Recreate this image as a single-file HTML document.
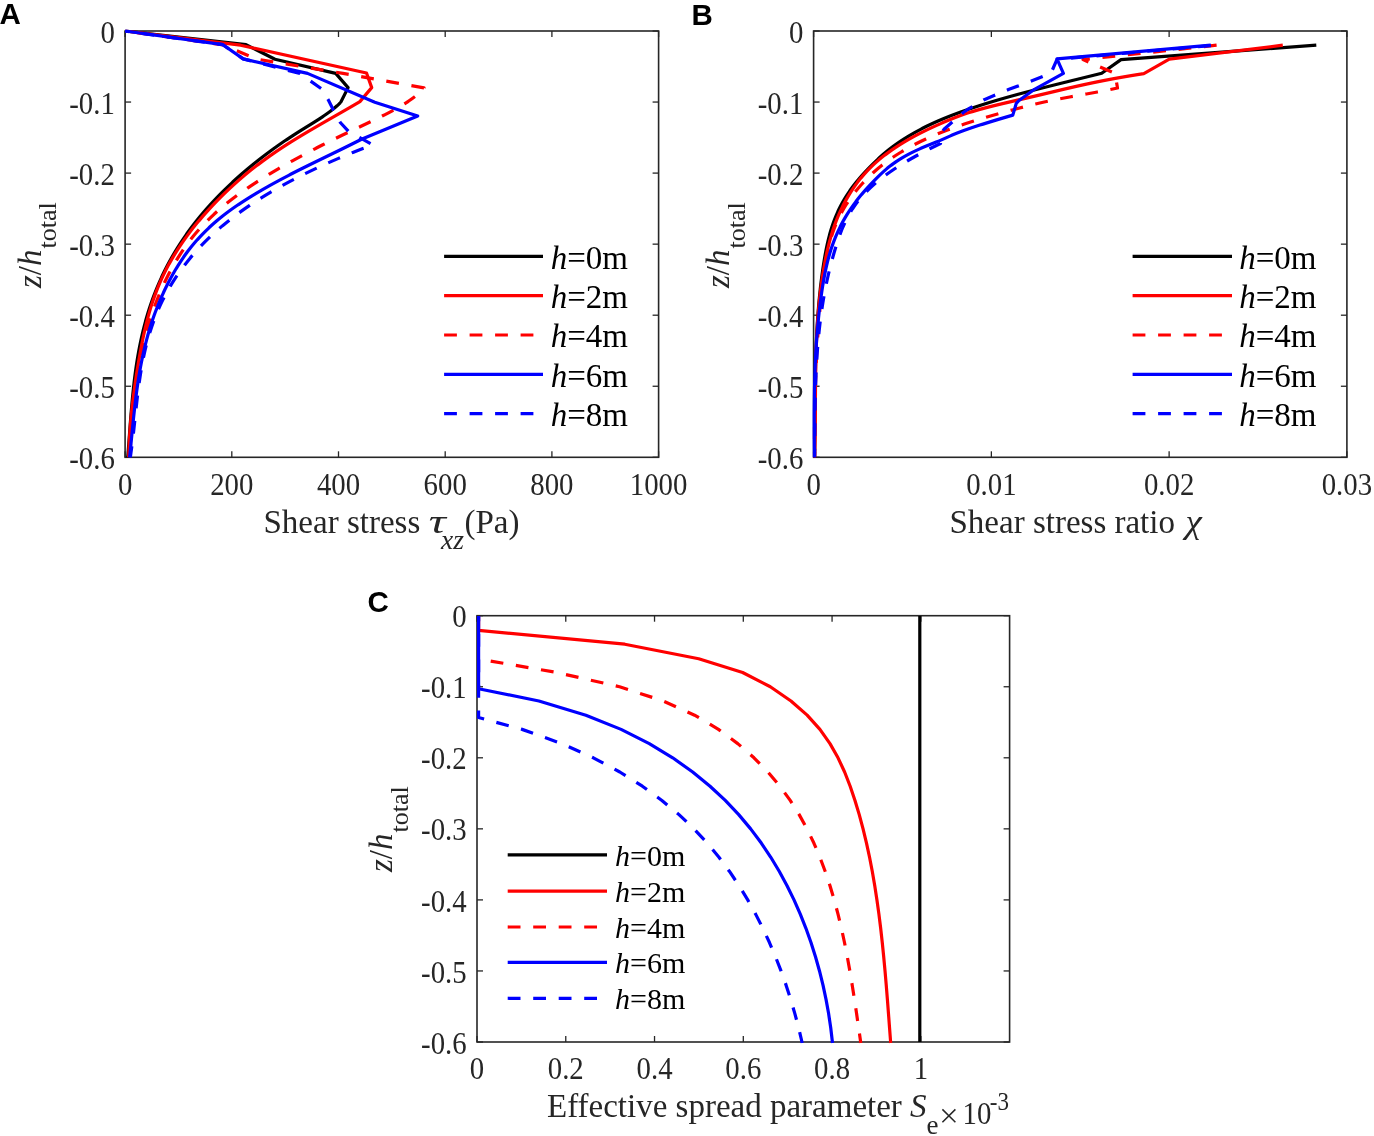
<!DOCTYPE html><html><head><meta charset="utf-8"><style>html,body{margin:0;padding:0;background:#fff;overflow:hidden}svg{display:block;will-change:transform}</style></head><body>
<svg width="1374" height="1136" viewBox="0 0 1374 1136" font-family="Liberation Serif, serif">
<rect width="1374" height="1136" fill="#fff"/>
<text x="-0.5" y="24" font-family="Liberation Sans, sans-serif" font-weight="bold" font-size="29.5" fill="#000">A</text>
<text x="691.5" y="24.5" font-family="Liberation Sans, sans-serif" font-weight="bold" font-size="29.5" fill="#000">B</text>
<text x="367.5" y="611.5" font-family="Liberation Sans, sans-serif" font-weight="bold" font-size="29.5" fill="#000">C</text>
<defs><clipPath id="ca"><rect x="123.5" y="29.4" width="536.7" height="429.5"/></clipPath><clipPath id="cb"><rect x="812.0" y="29.4" width="536.5000000000001" height="429.5"/></clipPath><clipPath id="cc"><rect x="475.4" y="614.1" width="535.8000000000001" height="429.49999999999994"/></clipPath></defs>
<rect x="125.1" y="31" width="533.50" height="426.30" fill="none" stroke="#262626" stroke-width="1.6"/>
<line x1="125.1" y1="31.00" x2="131.1" y2="31.00" stroke="#262626" stroke-width="1.3"/>
<line x1="658.6" y1="31.00" x2="652.6" y2="31.00" stroke="#262626" stroke-width="1.3"/>
<text transform="translate(114.80,42.60) scale(0.96,1.07)" text-anchor="end" font-size="30" fill="#262626">0</text>
<line x1="125.1" y1="102.05" x2="131.1" y2="102.05" stroke="#262626" stroke-width="1.3"/>
<line x1="658.6" y1="102.05" x2="652.6" y2="102.05" stroke="#262626" stroke-width="1.3"/>
<text transform="translate(114.80,113.65) scale(0.96,1.07)" text-anchor="end" font-size="30" fill="#262626">-0.1</text>
<line x1="125.1" y1="173.10" x2="131.1" y2="173.10" stroke="#262626" stroke-width="1.3"/>
<line x1="658.6" y1="173.10" x2="652.6" y2="173.10" stroke="#262626" stroke-width="1.3"/>
<text transform="translate(114.80,184.70) scale(0.96,1.07)" text-anchor="end" font-size="30" fill="#262626">-0.2</text>
<line x1="125.1" y1="244.15" x2="131.1" y2="244.15" stroke="#262626" stroke-width="1.3"/>
<line x1="658.6" y1="244.15" x2="652.6" y2="244.15" stroke="#262626" stroke-width="1.3"/>
<text transform="translate(114.80,255.75) scale(0.96,1.07)" text-anchor="end" font-size="30" fill="#262626">-0.3</text>
<line x1="125.1" y1="315.20" x2="131.1" y2="315.20" stroke="#262626" stroke-width="1.3"/>
<line x1="658.6" y1="315.20" x2="652.6" y2="315.20" stroke="#262626" stroke-width="1.3"/>
<text transform="translate(114.80,326.80) scale(0.96,1.07)" text-anchor="end" font-size="30" fill="#262626">-0.4</text>
<line x1="125.1" y1="386.25" x2="131.1" y2="386.25" stroke="#262626" stroke-width="1.3"/>
<line x1="658.6" y1="386.25" x2="652.6" y2="386.25" stroke="#262626" stroke-width="1.3"/>
<text transform="translate(114.80,397.85) scale(0.96,1.07)" text-anchor="end" font-size="30" fill="#262626">-0.5</text>
<line x1="125.1" y1="457.30" x2="131.1" y2="457.30" stroke="#262626" stroke-width="1.3"/>
<line x1="658.6" y1="457.30" x2="652.6" y2="457.30" stroke="#262626" stroke-width="1.3"/>
<text transform="translate(114.80,468.90) scale(0.96,1.07)" text-anchor="end" font-size="30" fill="#262626">-0.6</text>
<line x1="125.10" y1="457.3" x2="125.10" y2="451.3" stroke="#262626" stroke-width="1.3"/>
<line x1="125.10" y1="31" x2="125.10" y2="37" stroke="#262626" stroke-width="1.3"/>
<text transform="translate(125.10,494.60) scale(0.96,1.07)" text-anchor="middle" font-size="30" fill="#262626">0</text>
<line x1="231.80" y1="457.3" x2="231.80" y2="451.3" stroke="#262626" stroke-width="1.3"/>
<line x1="231.80" y1="31" x2="231.80" y2="37" stroke="#262626" stroke-width="1.3"/>
<text transform="translate(231.80,494.60) scale(0.96,1.07)" text-anchor="middle" font-size="30" fill="#262626">200</text>
<line x1="338.50" y1="457.3" x2="338.50" y2="451.3" stroke="#262626" stroke-width="1.3"/>
<line x1="338.50" y1="31" x2="338.50" y2="37" stroke="#262626" stroke-width="1.3"/>
<text transform="translate(338.50,494.60) scale(0.96,1.07)" text-anchor="middle" font-size="30" fill="#262626">400</text>
<line x1="445.20" y1="457.3" x2="445.20" y2="451.3" stroke="#262626" stroke-width="1.3"/>
<line x1="445.20" y1="31" x2="445.20" y2="37" stroke="#262626" stroke-width="1.3"/>
<text transform="translate(445.20,494.60) scale(0.96,1.07)" text-anchor="middle" font-size="30" fill="#262626">600</text>
<line x1="551.90" y1="457.3" x2="551.90" y2="451.3" stroke="#262626" stroke-width="1.3"/>
<line x1="551.90" y1="31" x2="551.90" y2="37" stroke="#262626" stroke-width="1.3"/>
<text transform="translate(551.90,494.60) scale(0.96,1.07)" text-anchor="middle" font-size="30" fill="#262626">800</text>
<line x1="658.60" y1="457.3" x2="658.60" y2="451.3" stroke="#262626" stroke-width="1.3"/>
<line x1="658.60" y1="31" x2="658.60" y2="37" stroke="#262626" stroke-width="1.3"/>
<text transform="translate(658.60,494.60) scale(0.96,1.07)" text-anchor="middle" font-size="30" fill="#262626">1000</text>
<g clip-path="url(#ca)">
<path d="M125.20,31.00 L246.00,44.60 L275.00,59.30 L335.70,73.40 L348.10,87.60 L341.00,101.80 L340.10,102.80 L339.14,103.80 L338.13,104.80 L337.06,105.80 L335.94,106.80 L334.77,107.80 L333.55,108.80 L332.29,109.80 L331.00,110.80 L329.66,111.80 L328.28,112.80 L326.87,113.80 L325.44,114.80 L323.97,115.80 L322.47,116.80 L320.96,117.80 L319.42,118.80 L317.86,119.80 L316.29,120.80 L314.70,121.80 L313.10,122.80 L311.49,123.80 L309.88,124.80 L308.26,125.80 L306.64,126.80 L305.03,127.80 L303.42,128.80 L301.81,129.80 L300.21,130.80 L298.63,131.80 L297.05,132.80 L295.49,133.80 L293.95,134.80 L292.41,135.80 L290.89,136.80 L289.38,137.80 L287.89,138.80 L286.40,139.80 L284.93,140.80 L283.47,141.80 L282.02,142.80 L280.59,143.80 L279.16,144.80 L277.74,145.80 L276.34,146.80 L274.94,147.80 L273.56,148.80 L272.18,149.80 L270.82,150.80 L269.46,151.80 L268.11,152.80 L266.78,153.80 L265.45,154.80 L264.13,155.80 L262.82,156.80 L261.52,157.80 L260.23,158.80 L258.95,159.80 L257.68,160.80 L256.42,161.80 L255.16,162.80 L253.92,163.80 L252.68,164.80 L251.46,165.80 L250.24,166.80 L249.03,167.80 L247.83,168.80 L246.64,169.80 L245.46,170.80 L244.29,171.80 L243.12,172.80 L241.96,173.80 L240.82,174.80 L239.68,175.80 L238.55,176.80 L237.42,177.80 L236.31,178.80 L235.21,179.80 L234.11,180.80 L233.02,181.80 L231.94,182.80 L230.87,183.80 L229.80,184.80 L228.75,185.80 L227.70,186.80 L226.66,187.80 L225.63,188.80 L224.60,189.80 L223.59,190.80 L222.58,191.80 L221.58,192.80 L220.58,193.80 L219.60,194.80 L218.62,195.80 L217.65,196.80 L216.69,197.80 L215.73,198.80 L214.79,199.80 L213.85,200.80 L212.92,201.80 L211.99,202.80 L211.07,203.80 L210.16,204.80 L209.26,205.80 L208.36,206.80 L207.48,207.80 L206.60,208.80 L205.72,209.80 L204.85,210.80 L203.99,211.80 L203.14,212.80 L202.30,213.80 L201.46,214.80 L200.63,215.80 L199.80,216.80 L198.98,217.80 L198.17,218.80 L197.37,219.80 L196.57,220.80 L195.78,221.80 L195.00,222.80 L194.22,223.80 L193.45,224.80 L192.69,225.80 L191.93,226.80 L191.18,227.80 L190.44,228.80 L189.70,229.80 L188.97,230.80 L188.24,231.80 L187.53,232.80 L186.81,233.80 L186.11,234.80 L185.41,235.80 L184.72,236.80 L184.03,237.80 L183.35,238.80 L182.68,239.80 L182.01,240.80 L181.35,241.80 L180.69,242.80 L180.04,243.80 L179.40,244.80 L178.76,245.80 L178.13,246.80 L177.51,247.80 L176.89,248.80 L176.27,249.80 L175.67,250.80 L175.06,251.80 L174.47,252.80 L173.88,253.80 L173.29,254.80 L172.71,255.80 L172.14,256.80 L171.57,257.80 L171.01,258.80 L170.45,259.80 L169.90,260.80 L169.36,261.80 L168.81,262.80 L168.28,263.80 L167.75,264.80 L167.23,265.80 L166.71,266.80 L166.19,267.80 L165.69,268.80 L165.18,269.80 L164.68,270.80 L164.19,271.80 L163.70,272.80 L163.22,273.80 L162.74,274.80 L162.27,275.80 L161.80,276.80 L161.34,277.80 L160.88,278.80 L160.43,279.80 L159.98,280.80 L159.54,281.80 L159.10,282.80 L158.67,283.80 L158.24,284.80 L157.82,285.80 L157.40,286.80 L156.98,287.80 L156.57,288.80 L156.17,289.80 L155.76,290.80 L155.37,291.80 L154.98,292.80 L154.59,293.80 L154.20,294.80 L153.83,295.80 L153.45,296.80 L153.08,297.80 L152.72,298.80 L152.35,299.80 L152.00,300.80 L151.64,301.80 L151.29,302.80 L150.95,303.80 L150.61,304.80 L150.27,305.80 L149.94,306.80 L149.61,307.80 L149.28,308.80 L148.96,309.80 L148.65,310.80 L148.33,311.80 L148.02,312.80 L147.72,313.80 L147.42,314.80 L147.12,315.80 L146.82,316.80 L146.53,317.80 L146.25,318.80 L145.96,319.80 L145.68,320.80 L145.41,321.80 L145.14,322.80 L144.87,323.80 L144.60,324.80 L144.34,325.80 L144.08,326.80 L143.83,327.80 L143.57,328.80 L143.32,329.80 L143.08,330.80 L142.84,331.80 L142.60,332.80 L142.36,333.80 L142.13,334.80 L141.90,335.80 L141.67,336.80 L141.45,337.80 L141.23,338.80 L141.01,339.80 L140.80,340.80 L140.59,341.80 L140.38,342.80 L140.17,343.80 L139.97,344.80 L139.77,345.80 L139.57,346.80 L139.38,347.80 L139.19,348.80 L139.00,349.80 L138.81,350.80 L138.63,351.80 L138.45,352.80 L138.27,353.80 L138.09,354.80 L137.92,355.80 L137.75,356.80 L137.58,357.80 L137.41,358.80 L137.25,359.80 L137.09,360.80 L136.93,361.80 L136.77,362.80 L136.62,363.80 L136.46,364.80 L136.31,365.80 L136.17,366.80 L136.02,367.80 L135.88,368.80 L135.73,369.80 L135.59,370.80 L135.46,371.80 L135.32,372.80 L135.19,373.80 L135.06,374.80 L134.93,375.80 L134.80,376.80 L134.67,377.80 L134.55,378.80 L134.42,379.80 L134.30,380.80 L134.18,381.80 L134.06,382.80 L133.95,383.80 L133.83,384.80 L133.72,385.80 L133.61,386.80 L133.50,387.80 L133.39,388.80 L133.28,389.80 L133.18,390.80 L133.07,391.80 L132.97,392.80 L132.87,393.80 L132.77,394.80 L132.67,395.80 L132.57,396.80 L132.47,397.80 L132.38,398.80 L132.28,399.80 L132.19,400.80 L132.10,401.80 L132.01,402.80 L131.92,403.80 L131.83,404.80 L131.74,405.80 L131.65,406.80 L131.56,407.80 L131.48,408.80 L131.39,409.80 L131.31,410.80 L131.23,411.80 L131.14,412.80 L131.06,413.80 L130.98,414.80 L130.90,415.80 L130.82,416.80 L130.74,417.80 L130.66,418.80 L130.58,419.80 L130.50,420.80 L130.43,421.80 L130.35,422.80 L130.27,423.80 L130.20,424.80 L130.12,425.80 L130.04,426.80 L129.97,427.80 L129.89,428.80 L129.82,429.80 L129.74,430.80 L129.67,431.80 L129.59,432.80 L129.52,433.80 L129.44,434.80 L129.37,435.80 L129.29,436.80 L129.22,437.80 L129.14,438.80 L129.07,439.80 L128.99,440.80 L128.92,441.80 L128.84,442.80 L128.77,443.80 L128.69,444.80 L128.61,445.80 L128.54,446.80 L128.46,447.80 L128.38,448.80 L128.30,449.80 L128.22,450.80 L128.14,451.80 L128.07,452.80 L127.99,453.80 L127.90,454.80 L127.82,455.80 L127.74,456.80 L127.70,457.30" fill="none" stroke="#000" stroke-width="3.2" stroke-linejoin="round"/>
<path d="M125.20,31.00 L240.50,45.20 L366.50,73.00 L371.70,87.60 L359.90,101.60 L358.20,102.60 L356.49,103.60 L354.78,104.60 L353.07,105.60 L351.34,106.60 L349.62,107.60 L347.88,108.60 L346.15,109.60 L344.41,110.60 L342.67,111.60 L340.93,112.60 L339.18,113.60 L337.44,114.60 L335.69,115.60 L333.94,116.60 L332.19,117.60 L330.45,118.60 L328.70,119.60 L326.96,120.60 L325.21,121.60 L323.47,122.60 L321.73,123.60 L320.00,124.60 L318.27,125.60 L316.54,126.60 L314.82,127.60 L313.11,128.60 L311.40,129.60 L309.69,130.60 L307.99,131.60 L306.30,132.60 L304.62,133.60 L302.94,134.60 L301.27,135.60 L299.62,136.60 L297.97,137.60 L296.33,138.60 L294.70,139.60 L293.08,140.60 L291.47,141.60 L289.88,142.60 L288.29,143.60 L286.72,144.60 L285.17,145.60 L283.62,146.60 L282.09,147.60 L280.57,148.60 L279.07,149.60 L277.58,150.60 L276.10,151.60 L274.64,152.60 L273.19,153.60 L271.75,154.60 L270.32,155.60 L268.91,156.60 L267.51,157.60 L266.12,158.60 L264.74,159.60 L263.38,160.60 L262.03,161.60 L260.69,162.60 L259.36,163.60 L258.04,164.60 L256.74,165.60 L255.44,166.60 L254.16,167.60 L252.89,168.60 L251.62,169.60 L250.37,170.60 L249.13,171.60 L247.91,172.60 L246.69,173.60 L245.48,174.60 L244.28,175.60 L243.09,176.60 L241.91,177.60 L240.75,178.60 L239.59,179.60 L238.44,180.60 L237.30,181.60 L236.17,182.60 L235.05,183.60 L233.93,184.60 L232.83,185.60 L231.74,186.60 L230.65,187.60 L229.57,188.60 L228.51,189.60 L227.45,190.60 L226.39,191.60 L225.35,192.60 L224.31,193.60 L223.28,194.60 L222.26,195.60 L221.25,196.60 L220.25,197.60 L219.25,198.60 L218.26,199.60 L217.27,200.60 L216.30,201.60 L215.33,202.60 L214.37,203.60 L213.41,204.60 L212.46,205.60 L211.52,206.60 L210.59,207.60 L209.66,208.60 L208.74,209.60 L207.83,210.60 L206.92,211.60 L206.03,212.60 L205.13,213.60 L204.25,214.60 L203.37,215.60 L202.50,216.60 L201.64,217.60 L200.78,218.60 L199.94,219.60 L199.09,220.60 L198.26,221.60 L197.43,222.60 L196.61,223.60 L195.79,224.60 L194.99,225.60 L194.19,226.60 L193.39,227.60 L192.60,228.60 L191.82,229.60 L191.05,230.60 L190.28,231.60 L189.53,232.60 L188.77,233.60 L188.03,234.60 L187.29,235.60 L186.55,236.60 L185.83,237.60 L185.11,238.60 L184.40,239.60 L183.69,240.60 L182.99,241.60 L182.30,242.60 L181.61,243.60 L180.94,244.60 L180.26,245.60 L179.60,246.60 L178.94,247.60 L178.29,248.60 L177.64,249.60 L177.00,250.60 L176.37,251.60 L175.74,252.60 L175.12,253.60 L174.51,254.60 L173.90,255.60 L173.30,256.60 L172.71,257.60 L172.12,258.60 L171.54,259.60 L170.97,260.60 L170.40,261.60 L169.84,262.60 L169.28,263.60 L168.74,264.60 L168.19,265.60 L167.66,266.60 L167.13,267.60 L166.61,268.60 L166.09,269.60 L165.58,270.60 L165.08,271.60 L164.58,272.60 L164.09,273.60 L163.60,274.60 L163.12,275.60 L162.65,276.60 L162.19,277.60 L161.72,278.60 L161.27,279.60 L160.82,280.60 L160.38,281.60 L159.94,282.60 L159.51,283.60 L159.09,284.60 L158.67,285.60 L158.26,286.60 L157.85,287.60 L157.45,288.60 L157.05,289.60 L156.66,290.60 L156.27,291.60 L155.89,292.60 L155.51,293.60 L155.14,294.60 L154.78,295.60 L154.41,296.60 L154.06,297.60 L153.71,298.60 L153.36,299.60 L153.02,300.60 L152.68,301.60 L152.35,302.60 L152.02,303.60 L151.70,304.60 L151.38,305.60 L151.06,306.60 L150.75,307.60 L150.45,308.60 L150.15,309.60 L149.85,310.60 L149.55,311.60 L149.26,312.60 L148.98,313.60 L148.70,314.60 L148.42,315.60 L148.14,316.60 L147.87,317.60 L147.60,318.60 L147.34,319.60 L147.08,320.60 L146.82,321.60 L146.57,322.60 L146.32,323.60 L146.07,324.60 L145.83,325.60 L145.59,326.60 L145.35,327.60 L145.11,328.60 L144.88,329.60 L144.65,330.60 L144.43,331.60 L144.20,332.60 L143.98,333.60 L143.76,334.60 L143.55,335.60 L143.33,336.60 L143.12,337.60 L142.91,338.60 L142.71,339.60 L142.50,340.60 L142.30,341.60 L142.10,342.60 L141.90,343.60 L141.71,344.60 L141.51,345.60 L141.32,346.60 L141.13,347.60 L140.94,348.60 L140.75,349.60 L140.57,350.60 L140.38,351.60 L140.20,352.60 L140.02,353.60 L139.84,354.60 L139.66,355.60 L139.49,356.60 L139.31,357.60 L139.13,358.60 L138.96,359.60 L138.79,360.60 L138.62,361.60 L138.44,362.60 L138.27,363.60 L138.11,364.60 L137.94,365.60 L137.77,366.60 L137.61,367.60 L137.44,368.60 L137.28,369.60 L137.12,370.60 L136.96,371.60 L136.80,372.60 L136.64,373.60 L136.48,374.60 L136.32,375.60 L136.17,376.60 L136.02,377.60 L135.86,378.60 L135.71,379.60 L135.56,380.60 L135.41,381.60 L135.27,382.60 L135.12,383.60 L134.98,384.60 L134.83,385.60 L134.69,386.60 L134.55,387.60 L134.41,388.60 L134.27,389.60 L134.14,390.60 L134.00,391.60 L133.87,392.60 L133.74,393.60 L133.61,394.60 L133.48,395.60 L133.35,396.60 L133.22,397.60 L133.10,398.60 L132.97,399.60 L132.85,400.60 L132.73,401.60 L132.61,402.60 L132.49,403.60 L132.38,404.60 L132.26,405.60 L132.15,406.60 L132.04,407.60 L131.93,408.60 L131.82,409.60 L131.71,410.60 L131.61,411.60 L131.50,412.60 L131.40,413.60 L131.30,414.60 L131.20,415.60 L131.11,416.60 L131.01,417.60 L130.92,418.60 L130.82,419.60 L130.73,420.60 L130.65,421.60 L130.56,422.60 L130.47,423.60 L130.39,424.60 L130.31,425.60 L130.23,426.60 L130.15,427.60 L130.08,428.60 L130.00,429.60 L129.93,430.60 L129.86,431.60 L129.79,432.60 L129.72,433.60 L129.66,434.60 L129.59,435.60 L129.53,436.60 L129.47,437.60 L129.41,438.60 L129.36,439.60 L129.31,440.60 L129.25,441.60 L129.20,442.60 L129.16,443.60 L129.11,444.60 L129.07,445.60 L129.02,446.60 L128.98,447.60 L128.94,448.60 L128.91,449.60 L128.87,450.60 L128.84,451.60 L128.81,452.60 L128.79,453.60 L128.76,454.60 L128.74,455.60 L128.71,456.60 L128.70,457.30" fill="none" stroke="#f00" stroke-width="3.2" stroke-linejoin="round"/>
<path d="M125.20,31.00 L223.00,44.80 L257.00,59.20 L343.00,73.40 L424.00,87.80 L423.20,88.80 L422.34,89.80 L421.42,90.80 L420.43,91.80 L419.39,92.80 L418.29,93.80 L417.13,94.80 L415.91,95.80 L414.65,96.80 L413.33,97.80 L411.96,98.80 L410.54,99.80 L409.08,100.80 L407.57,101.80 L406.02,102.80 L404.43,103.80 L402.79,104.80 L401.12,105.80 L399.41,106.80 L397.67,107.80 L395.89,108.80 L394.08,109.80 L392.24,110.80 L390.37,111.80 L388.47,112.80 L386.55,113.80 L384.61,114.80 L382.64,115.80 L380.65,116.80 L378.64,117.80 L376.61,118.80 L374.57,119.80 L372.52,120.80 L370.45,121.80 L368.37,122.80 L366.28,123.80 L364.18,124.80 L362.08,125.80 L359.98,126.80 L357.86,127.80 L355.75,128.80 L353.64,129.80 L351.53,130.80 L349.43,131.80 L347.33,132.80 L345.23,133.80 L343.15,134.80 L341.07,135.80 L339.01,136.80 L336.95,137.80 L334.90,138.80 L332.86,139.80 L330.83,140.80 L328.81,141.80 L326.80,142.80 L324.80,143.80 L322.81,144.80 L320.83,145.80 L318.86,146.80 L316.90,147.80 L314.95,148.80 L313.01,149.80 L311.09,150.80 L309.17,151.80 L307.26,152.80 L305.36,153.80 L303.48,154.80 L301.60,155.80 L299.74,156.80 L297.89,157.80 L296.04,158.80 L294.21,159.80 L292.40,160.80 L290.59,161.80 L288.79,162.80 L287.01,163.80 L285.23,164.80 L283.47,165.80 L281.72,166.80 L279.99,167.80 L278.26,168.80 L276.55,169.80 L274.85,170.80 L273.16,171.80 L271.49,172.80 L269.82,173.80 L268.17,174.80 L266.53,175.80 L264.91,176.80 L263.30,177.80 L261.70,178.80 L260.11,179.80 L258.54,180.80 L256.98,181.80 L255.43,182.80 L253.90,183.80 L252.38,184.80 L250.87,185.80 L249.38,186.80 L247.90,187.80 L246.44,188.80 L244.99,189.80 L243.55,190.80 L242.13,191.80 L240.72,192.80 L239.32,193.80 L237.94,194.80 L236.58,195.80 L235.23,196.80 L233.89,197.80 L232.57,198.80 L231.27,199.80 L229.97,200.80 L228.70,201.80 L227.44,202.80 L226.19,203.80 L224.96,204.80 L223.75,205.80 L222.54,206.80 L221.36,207.80 L220.19,208.80 L219.03,209.80 L217.89,210.80 L216.76,211.80 L215.65,212.80 L214.55,213.80 L213.47,214.80 L212.40,215.80 L211.34,216.80 L210.29,217.80 L209.26,218.80 L208.24,219.80 L207.24,220.80 L206.25,221.80 L205.27,222.80 L204.30,223.80 L203.35,224.80 L202.41,225.80 L201.48,226.80 L200.56,227.80 L199.65,228.80 L198.76,229.80 L197.88,230.80 L197.01,231.80 L196.15,232.80 L195.30,233.80 L194.46,234.80 L193.64,235.80 L192.82,236.80 L192.02,237.80 L191.22,238.80 L190.44,239.80 L189.66,240.80 L188.90,241.80 L188.15,242.80 L187.40,243.80 L186.67,244.80 L185.94,245.80 L185.23,246.80 L184.52,247.80 L183.82,248.80 L183.13,249.80 L182.45,250.80 L181.78,251.80 L181.12,252.80 L180.46,253.80 L179.82,254.80 L179.18,255.80 L178.55,256.80 L177.92,257.80 L177.31,258.80 L176.70,259.80 L176.10,260.80 L175.50,261.80 L174.92,262.80 L174.34,263.80 L173.76,264.80 L173.20,265.80 L172.64,266.80 L172.08,267.80 L171.54,268.80 L170.99,269.80 L170.46,270.80 L169.93,271.80 L169.40,272.80 L168.88,273.80 L168.37,274.80 L167.86,275.80 L167.36,276.80 L166.86,277.80 L166.37,278.80 L165.88,279.80 L165.39,280.80 L164.92,281.80 L164.44,282.80 L163.97,283.80 L163.51,284.80 L163.05,285.80 L162.59,286.80 L162.14,287.80 L161.70,288.80 L161.26,289.80 L160.82,290.80 L160.39,291.80 L159.97,292.80 L159.54,293.80 L159.13,294.80 L158.71,295.80 L158.31,296.80 L157.90,297.80 L157.50,298.80 L157.11,299.80 L156.72,300.80 L156.33,301.80 L155.95,302.80 L155.57,303.80 L155.20,304.80 L154.83,305.80 L154.46,306.80 L154.10,307.80 L153.74,308.80 L153.39,309.80 L153.04,310.80 L152.70,311.80 L152.36,312.80 L152.02,313.80 L151.69,314.80 L151.36,315.80 L151.03,316.80 L150.71,317.80 L150.39,318.80 L150.08,319.80 L149.77,320.80 L149.46,321.80 L149.16,322.80 L148.86,323.80 L148.56,324.80 L148.27,325.80 L147.98,326.80 L147.70,327.80 L147.42,328.80 L147.14,329.80 L146.87,330.80 L146.60,331.80 L146.33,332.80 L146.06,333.80 L145.80,334.80 L145.55,335.80 L145.29,336.80 L145.04,337.80 L144.79,338.80 L144.55,339.80 L144.31,340.80 L144.07,341.80 L143.83,342.80 L143.60,343.80 L143.37,344.80 L143.15,345.80 L142.92,346.80 L142.70,347.80 L142.49,348.80 L142.27,349.80 L142.06,350.80 L141.85,351.80 L141.64,352.80 L141.44,353.80 L141.24,354.80 L141.04,355.80 L140.85,356.80 L140.65,357.80 L140.46,358.80 L140.28,359.80 L140.09,360.80 L139.91,361.80 L139.73,362.80 L139.55,363.80 L139.38,364.80 L139.20,365.80 L139.03,366.80 L138.87,367.80 L138.70,368.80 L138.54,369.80 L138.37,370.80 L138.22,371.80 L138.06,372.80 L137.90,373.80 L137.75,374.80 L137.60,375.80 L137.45,376.80 L137.31,377.80 L137.16,378.80 L137.02,379.80 L136.88,380.80 L136.74,381.80 L136.60,382.80 L136.47,383.80 L136.33,384.80 L136.20,385.80 L136.07,386.80 L135.95,387.80 L135.82,388.80 L135.70,389.80 L135.57,390.80 L135.45,391.80 L135.33,392.80 L135.21,393.80 L135.10,394.80 L134.98,395.80 L134.87,396.80 L134.75,397.80 L134.64,398.80 L134.53,399.80 L134.43,400.80 L134.32,401.80 L134.21,402.80 L134.11,403.80 L134.01,404.80 L133.90,405.80 L133.80,406.80 L133.70,407.80 L133.60,408.80 L133.51,409.80 L133.41,410.80 L133.31,411.80 L133.22,412.80 L133.12,413.80 L133.03,414.80 L132.94,415.80 L132.85,416.80 L132.76,417.80 L132.67,418.80 L132.58,419.80 L132.49,420.80 L132.40,421.80 L132.32,422.80 L132.23,423.80 L132.15,424.80 L132.06,425.80 L131.98,426.80 L131.89,427.80 L131.81,428.80 L131.73,429.80 L131.64,430.80 L131.56,431.80 L131.48,432.80 L131.40,433.80 L131.32,434.80 L131.23,435.80 L131.15,436.80 L131.07,437.80 L130.99,438.80 L130.91,439.80 L130.83,440.80 L130.75,441.80 L130.67,442.80 L130.59,443.80 L130.51,444.80 L130.43,445.80 L130.35,446.80 L130.27,447.80 L130.19,448.80 L130.11,449.80 L130.03,450.80 L129.95,451.80 L129.87,452.80 L129.79,453.80 L129.71,454.80 L129.62,455.80 L129.54,456.80 L129.50,457.30" fill="none" stroke="#f00" stroke-width="3.2" stroke-linejoin="round" stroke-dasharray="12.8 12.7" stroke-dashoffset="13.67"/>
<path d="M125.20,31.00 L222.90,44.70 L243.20,58.90 L307.50,73.40 L374.80,102.20 L417.70,116.10 L361.50,139.30 L359.54,140.30 L357.56,141.30 L355.58,142.30 L353.59,143.30 L351.58,144.30 L349.57,145.30 L347.56,146.30 L345.53,147.30 L343.50,148.30 L341.46,149.30 L339.42,150.30 L337.37,151.30 L335.32,152.30 L333.27,153.30 L331.22,154.30 L329.16,155.30 L327.10,156.30 L325.04,157.30 L322.99,158.30 L320.93,159.30 L318.88,160.30 L316.82,161.30 L314.78,162.30 L312.73,163.30 L310.69,164.30 L308.66,165.30 L306.63,166.30 L304.60,167.30 L302.59,168.30 L300.58,169.30 L298.58,170.30 L296.59,171.30 L294.61,172.30 L292.65,173.30 L290.69,174.30 L288.74,175.30 L286.81,176.30 L284.89,177.30 L282.98,178.30 L281.09,179.30 L279.21,180.30 L277.35,181.30 L275.50,182.30 L273.67,183.30 L271.85,184.30 L270.05,185.30 L268.26,186.30 L266.49,187.30 L264.73,188.30 L262.99,189.30 L261.26,190.30 L259.55,191.30 L257.86,192.30 L256.18,193.30 L254.52,194.30 L252.87,195.30 L251.24,196.30 L249.63,197.30 L248.04,198.30 L246.46,199.30 L244.90,200.30 L243.35,201.30 L241.82,202.30 L240.31,203.30 L238.82,204.30 L237.35,205.30 L235.89,206.30 L234.45,207.30 L233.03,208.30 L231.63,209.30 L230.25,210.30 L228.88,211.30 L227.53,212.30 L226.21,213.30 L224.90,214.30 L223.61,215.30 L222.33,216.30 L221.08,217.30 L219.85,218.30 L218.63,219.30 L217.43,220.30 L216.25,221.30 L215.08,222.30 L213.93,223.30 L212.80,224.30 L211.69,225.30 L210.59,226.30 L209.50,227.30 L208.44,228.30 L207.39,229.30 L206.35,230.30 L205.33,231.30 L204.33,232.30 L203.34,233.30 L202.36,234.30 L201.40,235.30 L200.45,236.30 L199.52,237.30 L198.60,238.30 L197.69,239.30 L196.80,240.30 L195.92,241.30 L195.06,242.30 L194.20,243.30 L193.36,244.30 L192.53,245.30 L191.71,246.30 L190.91,247.30 L190.12,248.30 L189.33,249.30 L188.56,250.30 L187.80,251.30 L187.06,252.30 L186.32,253.30 L185.59,254.30 L184.87,255.30 L184.16,256.30 L183.46,257.30 L182.78,258.30 L182.10,259.30 L181.43,260.30 L180.76,261.30 L180.11,262.30 L179.47,263.30 L178.83,264.30 L178.20,265.30 L177.58,266.30 L176.97,267.30 L176.36,268.30 L175.76,269.30 L175.17,270.30 L174.59,271.30 L174.01,272.30 L173.43,273.30 L172.87,274.30 L172.31,275.30 L171.75,276.30 L171.20,277.30 L170.66,278.30 L170.12,279.30 L169.59,280.30 L169.06,281.30 L168.54,282.30 L168.02,283.30 L167.51,284.30 L167.01,285.30 L166.51,286.30 L166.01,287.30 L165.52,288.30 L165.04,289.30 L164.56,290.30 L164.09,291.30 L163.62,292.30 L163.16,293.30 L162.70,294.30 L162.24,295.30 L161.79,296.30 L161.35,297.30 L160.91,298.30 L160.48,299.30 L160.05,300.30 L159.62,301.30 L159.21,302.30 L158.79,303.30 L158.38,304.30 L157.97,305.30 L157.57,306.30 L157.18,307.30 L156.79,308.30 L156.40,309.30 L156.02,310.30 L155.64,311.30 L155.26,312.30 L154.89,313.30 L154.53,314.30 L154.17,315.30 L153.81,316.30 L153.46,317.30 L153.11,318.30 L152.77,319.30 L152.43,320.30 L152.09,321.30 L151.76,322.30 L151.43,323.30 L151.11,324.30 L150.79,325.30 L150.47,326.30 L150.16,327.30 L149.85,328.30 L149.55,329.30 L149.25,330.30 L148.95,331.30 L148.66,332.30 L148.37,333.30 L148.09,334.30 L147.80,335.30 L147.53,336.30 L147.25,337.30 L146.98,338.30 L146.71,339.30 L146.45,340.30 L146.19,341.30 L145.93,342.30 L145.67,343.30 L145.42,344.30 L145.17,345.30 L144.93,346.30 L144.69,347.30 L144.45,348.30 L144.22,349.30 L143.98,350.30 L143.75,351.30 L143.53,352.30 L143.31,353.30 L143.09,354.30 L142.87,355.30 L142.65,356.30 L142.44,357.30 L142.23,358.30 L142.03,359.30 L141.82,360.30 L141.62,361.30 L141.43,362.30 L141.23,363.30 L141.04,364.30 L140.85,365.30 L140.66,366.30 L140.48,367.30 L140.29,368.30 L140.11,369.30 L139.94,370.30 L139.76,371.30 L139.59,372.30 L139.42,373.30 L139.25,374.30 L139.08,375.30 L138.92,376.30 L138.75,377.30 L138.59,378.30 L138.44,379.30 L138.28,380.30 L138.13,381.30 L137.97,382.30 L137.82,383.30 L137.68,384.30 L137.53,385.30 L137.39,386.30 L137.24,387.30 L137.10,388.30 L136.96,389.30 L136.83,390.30 L136.69,391.30 L136.56,392.30 L136.42,393.30 L136.29,394.30 L136.16,395.30 L136.03,396.30 L135.91,397.30 L135.78,398.30 L135.66,399.30 L135.53,400.30 L135.41,401.30 L135.29,402.30 L135.17,403.30 L135.06,404.30 L134.94,405.30 L134.82,406.30 L134.71,407.30 L134.60,408.30 L134.48,409.30 L134.37,410.30 L134.26,411.30 L134.15,412.30 L134.04,413.30 L133.94,414.30 L133.83,415.30 L133.72,416.30 L133.62,417.30 L133.51,418.30 L133.41,419.30 L133.31,420.30 L133.20,421.30 L133.10,422.30 L133.00,423.30 L132.90,424.30 L132.80,425.30 L132.70,426.30 L132.60,427.30 L132.50,428.30 L132.40,429.30 L132.30,430.30 L132.20,431.30 L132.10,432.30 L132.00,433.30 L131.90,434.30 L131.81,435.30 L131.71,436.30 L131.61,437.30 L131.51,438.30 L131.41,439.30 L131.32,440.30 L131.22,441.30 L131.12,442.30 L131.02,443.30 L130.92,444.30 L130.82,445.30 L130.72,446.30 L130.62,447.30 L130.52,448.30 L130.42,449.30 L130.32,450.30 L130.22,451.30 L130.12,452.30 L130.02,453.30 L129.91,454.30 L129.81,455.30 L129.70,456.30 L129.60,457.30" fill="none" stroke="#00f" stroke-width="3.2" stroke-linejoin="round"/>
<path d="M125.20,31.00 L222.90,44.70 L243.20,58.90 L300.00,73.50 L321.90,89.10 L328.50,100.30 L334.00,111.40 L340.30,122.50 L348.30,131.20 L373.00,145.00 L362.90,148.40 L360.36,149.40 L357.84,150.40 L355.35,151.40 L352.87,152.40 L350.42,153.40 L347.99,154.40 L345.58,155.40 L343.19,156.40 L340.82,157.40 L338.48,158.40 L336.15,159.40 L333.85,160.40 L331.56,161.40 L329.30,162.40 L327.05,163.40 L324.83,164.40 L322.63,165.40 L320.44,166.40 L318.28,167.40 L316.13,168.40 L314.01,169.40 L311.91,170.40 L309.82,171.40 L307.76,172.40 L305.71,173.40 L303.68,174.40 L301.67,175.40 L299.68,176.40 L297.71,177.40 L295.76,178.40 L293.83,179.40 L291.91,180.40 L290.01,181.40 L288.14,182.40 L286.27,183.40 L284.43,184.40 L282.61,185.40 L280.80,186.40 L279.01,187.40 L277.24,188.40 L275.48,189.40 L273.75,190.40 L272.03,191.40 L270.32,192.40 L268.64,193.40 L266.97,194.40 L265.32,195.40 L263.68,196.40 L262.06,197.40 L260.46,198.40 L258.87,199.40 L257.30,200.40 L255.74,201.40 L254.20,202.40 L252.68,203.40 L251.17,204.40 L249.68,205.40 L248.21,206.40 L246.75,207.40 L245.30,208.40 L243.87,209.40 L242.45,210.40 L241.05,211.40 L239.67,212.40 L238.29,213.40 L236.94,214.40 L235.60,215.40 L234.27,216.40 L232.95,217.40 L231.65,218.40 L230.37,219.40 L229.10,220.40 L227.84,221.40 L226.59,222.40 L225.36,223.40 L224.14,224.40 L222.94,225.40 L221.75,226.40 L220.57,227.40 L219.40,228.40 L218.25,229.40 L217.11,230.40 L215.99,231.40 L214.87,232.40 L213.77,233.40 L212.68,234.40 L211.60,235.40 L210.54,236.40 L209.48,237.40 L208.44,238.40 L207.41,239.40 L206.39,240.40 L205.38,241.40 L204.39,242.40 L203.40,243.40 L202.43,244.40 L201.47,245.40 L200.51,246.40 L199.57,247.40 L198.64,248.40 L197.72,249.40 L196.81,250.40 L195.92,251.40 L195.03,252.40 L194.15,253.40 L193.28,254.40 L192.42,255.40 L191.57,256.40 L190.73,257.40 L189.90,258.40 L189.08,259.40 L188.27,260.40 L187.47,261.40 L186.68,262.40 L185.89,263.40 L185.12,264.40 L184.35,265.40 L183.59,266.40 L182.84,267.40 L182.10,268.40 L181.37,269.40 L180.65,270.40 L179.93,271.40 L179.23,272.40 L178.53,273.40 L177.84,274.40 L177.15,275.40 L176.48,276.40 L175.81,277.40 L175.16,278.40 L174.51,279.40 L173.86,280.40 L173.23,281.40 L172.60,282.40 L171.98,283.40 L171.37,284.40 L170.77,285.40 L170.17,286.40 L169.58,287.40 L169.00,288.40 L168.43,289.40 L167.86,290.40 L167.30,291.40 L166.75,292.40 L166.20,293.40 L165.66,294.40 L165.13,295.40 L164.61,296.40 L164.09,297.40 L163.58,298.40 L163.08,299.40 L162.58,300.40 L162.09,301.40 L161.61,302.40 L161.13,303.40 L160.66,304.40 L160.19,305.40 L159.74,306.40 L159.28,307.40 L158.84,308.40 L158.40,309.40 L157.97,310.40 L157.54,311.40 L157.12,312.40 L156.70,313.40 L156.29,314.40 L155.89,315.40 L155.49,316.40 L155.10,317.40 L154.72,318.40 L154.34,319.40 L153.96,320.40 L153.59,321.40 L153.23,322.40 L152.87,323.40 L152.52,324.40 L152.17,325.40 L151.83,326.40 L151.49,327.40 L151.16,328.40 L150.83,329.40 L150.51,330.40 L150.19,331.40 L149.88,332.40 L149.57,333.40 L149.27,334.40 L148.97,335.40 L148.68,336.40 L148.39,337.40 L148.11,338.40 L147.83,339.40 L147.55,340.40 L147.28,341.40 L147.01,342.40 L146.75,343.40 L146.49,344.40 L146.24,345.40 L145.99,346.40 L145.74,347.40 L145.50,348.40 L145.26,349.40 L145.03,350.40 L144.80,351.40 L144.57,352.40 L144.35,353.40 L144.13,354.40 L143.92,355.40 L143.70,356.40 L143.50,357.40 L143.29,358.40 L143.09,359.40 L142.89,360.40 L142.69,361.40 L142.50,362.40 L142.31,363.40 L142.13,364.40 L141.94,365.40 L141.76,366.40 L141.59,367.40 L141.41,368.40 L141.24,369.40 L141.07,370.40 L140.91,371.40 L140.74,372.40 L140.58,373.40 L140.42,374.40 L140.27,375.40 L140.11,376.40 L139.96,377.40 L139.81,378.40 L139.67,379.40 L139.52,380.40 L139.38,381.40 L139.24,382.40 L139.10,383.40 L138.96,384.40 L138.83,385.40 L138.69,386.40 L138.56,387.40 L138.43,388.40 L138.31,389.40 L138.18,390.40 L138.05,391.40 L137.93,392.40 L137.81,393.40 L137.69,394.40 L137.57,395.40 L137.45,396.40 L137.33,397.40 L137.22,398.40 L137.10,399.40 L136.99,400.40 L136.87,401.40 L136.76,402.40 L136.65,403.40 L136.54,404.40 L136.43,405.40 L136.32,406.40 L136.21,407.40 L136.10,408.40 L136.00,409.40 L135.89,410.40 L135.78,411.40 L135.68,412.40 L135.57,413.40 L135.46,414.40 L135.36,415.40 L135.25,416.40 L135.15,417.40 L135.04,418.40 L134.94,419.40 L134.83,420.40 L134.72,421.40 L134.62,422.40 L134.51,423.40 L134.40,424.40 L134.30,425.40 L134.19,426.40 L134.08,427.40 L133.97,428.40 L133.86,429.40 L133.75,430.40 L133.64,431.40 L133.53,432.40 L133.41,433.40 L133.30,434.40 L133.18,435.40 L133.07,436.40 L132.95,437.40 L132.83,438.40 L132.71,439.40 L132.59,440.40 L132.47,441.40 L132.35,442.40 L132.22,443.40 L132.09,444.40 L131.97,445.40 L131.84,446.40 L131.70,447.40 L131.57,448.40 L131.44,449.40 L131.30,450.40 L131.16,451.40 L131.02,452.40 L130.88,453.40 L130.73,454.40 L130.58,455.40 L130.43,456.40 L130.30,457.30" fill="none" stroke="#00f" stroke-width="3.2" stroke-linejoin="round" stroke-dasharray="12.8 12.7" stroke-dashoffset="8.87"/>
</g>
<path d="M444.10,256.30 L543.00,256.30" fill="none" stroke="#000" stroke-width="3.2" stroke-linejoin="round"/>
<text x="550.7" y="268.60" font-size="33" fill="#000"><tspan font-style="italic">h</tspan>=0m</text>
<path d="M444.10,295.60 L543.00,295.60" fill="none" stroke="#f00" stroke-width="3.2" stroke-linejoin="round"/>
<text x="550.7" y="307.90" font-size="33" fill="#000"><tspan font-style="italic">h</tspan>=2m</text>
<path d="M444.10,335.00 L543.00,335.00" fill="none" stroke="#f00" stroke-width="3.2" stroke-linejoin="round" stroke-dasharray="12.8 12.7"/>
<text x="550.7" y="347.30" font-size="33" fill="#000"><tspan font-style="italic">h</tspan>=4m</text>
<path d="M444.10,374.30 L543.00,374.30" fill="none" stroke="#00f" stroke-width="3.2" stroke-linejoin="round"/>
<text x="550.7" y="386.60" font-size="33" fill="#000"><tspan font-style="italic">h</tspan>=6m</text>
<path d="M444.10,413.60 L543.00,413.60" fill="none" stroke="#00f" stroke-width="3.2" stroke-linejoin="round" stroke-dasharray="12.8 12.7"/>
<text x="550.7" y="425.90" font-size="33" fill="#000"><tspan font-style="italic">h</tspan>=8m</text>
<text x="263.5" y="533" font-size="33" fill="#262626">Shear stress</text>
<text transform="translate(428.8,533) scale(1.45,1)" font-size="33" font-style="italic" fill="#262626">τ</text>
<text x="441" y="548.5" font-size="27.5" font-style="italic" fill="#262626">xz</text>
<text x="464.5" y="533" font-size="33" fill="#262626">(Pa)</text>
<text transform="translate(40.5,288) rotate(-90)" font-size="33" fill="#262626"><tspan font-style="italic">z</tspan>/<tspan font-style="italic">h</tspan><tspan font-size="26" dx="1" dy="15.8">total</tspan></text>
<rect x="813.6" y="31" width="533.30" height="426.30" fill="none" stroke="#262626" stroke-width="1.6"/>
<line x1="813.6" y1="31.00" x2="819.6" y2="31.00" stroke="#262626" stroke-width="1.3"/>
<line x1="1346.9" y1="31.00" x2="1340.9" y2="31.00" stroke="#262626" stroke-width="1.3"/>
<text transform="translate(803.30,42.60) scale(0.96,1.07)" text-anchor="end" font-size="30" fill="#262626">0</text>
<line x1="813.6" y1="102.05" x2="819.6" y2="102.05" stroke="#262626" stroke-width="1.3"/>
<line x1="1346.9" y1="102.05" x2="1340.9" y2="102.05" stroke="#262626" stroke-width="1.3"/>
<text transform="translate(803.30,113.65) scale(0.96,1.07)" text-anchor="end" font-size="30" fill="#262626">-0.1</text>
<line x1="813.6" y1="173.10" x2="819.6" y2="173.10" stroke="#262626" stroke-width="1.3"/>
<line x1="1346.9" y1="173.10" x2="1340.9" y2="173.10" stroke="#262626" stroke-width="1.3"/>
<text transform="translate(803.30,184.70) scale(0.96,1.07)" text-anchor="end" font-size="30" fill="#262626">-0.2</text>
<line x1="813.6" y1="244.15" x2="819.6" y2="244.15" stroke="#262626" stroke-width="1.3"/>
<line x1="1346.9" y1="244.15" x2="1340.9" y2="244.15" stroke="#262626" stroke-width="1.3"/>
<text transform="translate(803.30,255.75) scale(0.96,1.07)" text-anchor="end" font-size="30" fill="#262626">-0.3</text>
<line x1="813.6" y1="315.20" x2="819.6" y2="315.20" stroke="#262626" stroke-width="1.3"/>
<line x1="1346.9" y1="315.20" x2="1340.9" y2="315.20" stroke="#262626" stroke-width="1.3"/>
<text transform="translate(803.30,326.80) scale(0.96,1.07)" text-anchor="end" font-size="30" fill="#262626">-0.4</text>
<line x1="813.6" y1="386.25" x2="819.6" y2="386.25" stroke="#262626" stroke-width="1.3"/>
<line x1="1346.9" y1="386.25" x2="1340.9" y2="386.25" stroke="#262626" stroke-width="1.3"/>
<text transform="translate(803.30,397.85) scale(0.96,1.07)" text-anchor="end" font-size="30" fill="#262626">-0.5</text>
<line x1="813.6" y1="457.30" x2="819.6" y2="457.30" stroke="#262626" stroke-width="1.3"/>
<line x1="1346.9" y1="457.30" x2="1340.9" y2="457.30" stroke="#262626" stroke-width="1.3"/>
<text transform="translate(803.30,468.90) scale(0.96,1.07)" text-anchor="end" font-size="30" fill="#262626">-0.6</text>
<line x1="813.60" y1="457.3" x2="813.60" y2="451.3" stroke="#262626" stroke-width="1.3"/>
<line x1="813.60" y1="31" x2="813.60" y2="37" stroke="#262626" stroke-width="1.3"/>
<text transform="translate(813.60,494.60) scale(0.96,1.07)" text-anchor="middle" font-size="30" fill="#262626">0</text>
<line x1="991.37" y1="457.3" x2="991.37" y2="451.3" stroke="#262626" stroke-width="1.3"/>
<line x1="991.37" y1="31" x2="991.37" y2="37" stroke="#262626" stroke-width="1.3"/>
<text transform="translate(991.37,494.60) scale(0.96,1.07)" text-anchor="middle" font-size="30" fill="#262626">0.01</text>
<line x1="1169.13" y1="457.3" x2="1169.13" y2="451.3" stroke="#262626" stroke-width="1.3"/>
<line x1="1169.13" y1="31" x2="1169.13" y2="37" stroke="#262626" stroke-width="1.3"/>
<text transform="translate(1169.13,494.60) scale(0.96,1.07)" text-anchor="middle" font-size="30" fill="#262626">0.02</text>
<line x1="1346.90" y1="457.3" x2="1346.90" y2="451.3" stroke="#262626" stroke-width="1.3"/>
<line x1="1346.90" y1="31" x2="1346.90" y2="37" stroke="#262626" stroke-width="1.3"/>
<text transform="translate(1346.90,494.60) scale(0.96,1.07)" text-anchor="middle" font-size="30" fill="#262626">0.03</text>
<g clip-path="url(#cb)">
<path d="M1316.30,45.20 L1121.00,59.60 L1101.70,73.30 L1097.69,74.30 L1093.66,75.30 L1089.61,76.30 L1085.56,77.30 L1081.50,78.30 L1077.43,79.30 L1073.37,80.30 L1069.31,81.30 L1065.25,82.30 L1061.21,83.30 L1057.17,84.30 L1053.16,85.30 L1049.16,86.30 L1045.18,87.30 L1041.23,88.30 L1037.31,89.30 L1033.42,90.30 L1029.57,91.30 L1025.76,92.30 L1021.98,93.30 L1018.26,94.30 L1014.58,95.30 L1010.95,96.30 L1007.37,97.30 L1003.85,98.30 L1000.38,99.30 L996.96,100.30 L993.59,101.30 L990.28,102.30 L987.02,103.30 L983.81,104.30 L980.66,105.30 L977.56,106.30 L974.51,107.30 L971.52,108.30 L968.58,109.30 L965.69,110.30 L962.86,111.30 L960.08,112.30 L957.35,113.30 L954.68,114.30 L952.06,115.30 L949.49,116.30 L946.98,117.30 L944.52,118.30 L942.11,119.30 L939.76,120.30 L937.45,121.30 L935.19,122.30 L932.98,123.30 L930.81,124.30 L928.70,125.30 L926.62,126.30 L924.59,127.30 L922.61,128.30 L920.67,129.30 L918.77,130.30 L916.90,131.30 L915.08,132.30 L913.30,133.30 L911.56,134.30 L909.85,135.30 L908.18,136.30 L906.55,137.30 L904.95,138.30 L903.38,139.30 L901.85,140.30 L900.34,141.30 L898.87,142.30 L897.43,143.30 L896.02,144.30 L894.64,145.30 L893.28,146.30 L891.95,147.30 L890.65,148.30 L889.37,149.30 L888.11,150.30 L886.88,151.30 L885.67,152.30 L884.48,153.30 L883.31,154.30 L882.16,155.30 L881.03,156.30 L879.91,157.30 L878.82,158.30 L877.74,159.30 L876.67,160.30 L875.62,161.30 L874.58,162.30 L873.56,163.30 L872.54,164.30 L871.54,165.30 L870.54,166.30 L869.56,167.30 L868.59,168.30 L867.63,169.30 L866.68,170.30 L865.74,171.30 L864.82,172.30 L863.90,173.30 L863.00,174.30 L862.10,175.30 L861.22,176.30 L860.35,177.30 L859.50,178.30 L858.65,179.30 L857.82,180.30 L856.99,181.30 L856.18,182.30 L855.39,183.30 L854.60,184.30 L853.83,185.30 L853.07,186.30 L852.32,187.30 L851.58,188.30 L850.86,189.30 L850.15,190.30 L849.45,191.30 L848.77,192.30 L848.09,193.30 L847.43,194.30 L846.79,195.30 L846.15,196.30 L845.53,197.30 L844.92,198.30 L844.32,199.30 L843.74,200.30 L843.16,201.30 L842.60,202.30 L842.05,203.30 L841.51,204.30 L840.98,205.30 L840.46,206.30 L839.95,207.30 L839.45,208.30 L838.96,209.30 L838.49,210.30 L838.02,211.30 L837.56,212.30 L837.12,213.30 L836.68,214.30 L836.25,215.30 L835.83,216.30 L835.42,217.30 L835.02,218.30 L834.63,219.30 L834.25,220.30 L833.87,221.30 L833.50,222.30 L833.15,223.30 L832.80,224.30 L832.45,225.30 L832.12,226.30 L831.79,227.30 L831.47,228.30 L831.16,229.30 L830.85,230.30 L830.56,231.30 L830.26,232.30 L829.98,233.30 L829.70,234.30 L829.43,235.30 L829.16,236.30 L828.90,237.30 L828.65,238.30 L828.40,239.30 L828.16,240.30 L827.92,241.30 L827.69,242.30 L827.46,243.30 L827.24,244.30 L827.02,245.30 L826.81,246.30 L826.60,247.30 L826.39,248.30 L826.19,249.30 L826.00,250.30 L825.81,251.30 L825.62,252.30 L825.43,253.30 L825.25,254.30 L825.07,255.30 L824.89,256.30 L824.72,257.30 L824.55,258.30 L824.38,259.30 L824.22,260.30 L824.06,261.30 L823.89,262.30 L823.74,263.30 L823.58,264.30 L823.42,265.30 L823.27,266.30 L823.12,267.30 L822.97,268.30 L822.82,269.30 L822.68,270.30 L822.53,271.30 L822.39,272.30 L822.25,273.30 L822.11,274.30 L821.98,275.30 L821.84,276.30 L821.71,277.30 L821.58,278.30 L821.45,279.30 L821.32,280.30 L821.20,281.30 L821.07,282.30 L820.95,283.30 L820.83,284.30 L820.71,285.30 L820.59,286.30 L820.48,287.30 L820.36,288.30 L820.25,289.30 L820.14,290.30 L820.03,291.30 L819.93,292.30 L819.82,293.30 L819.72,294.30 L819.61,295.30 L819.51,296.30 L819.41,297.30 L819.32,298.30 L819.22,299.30 L819.12,300.30 L819.03,301.30 L818.94,302.30 L818.85,303.30 L818.76,304.30 L818.67,305.30 L818.58,306.30 L818.50,307.30 L818.42,308.30 L818.33,309.30 L818.25,310.30 L818.17,311.30 L818.10,312.30 L818.02,313.30 L817.95,314.30 L817.87,315.30 L817.80,316.30 L817.73,317.30 L817.66,318.30 L817.59,319.30 L817.52,320.30 L817.45,321.30 L817.39,322.30 L817.33,323.30 L817.26,324.30 L817.20,325.30 L817.14,326.30 L817.08,327.30 L817.02,328.30 L816.97,329.30 L816.91,330.30 L816.86,331.30 L816.80,332.30 L816.75,333.30 L816.70,334.30 L816.65,335.30 L816.60,336.30 L816.55,337.30 L816.51,338.30 L816.46,339.30 L816.41,340.30 L816.37,341.30 L816.33,342.30 L816.29,343.30 L816.24,344.30 L816.20,345.30 L816.16,346.30 L816.13,347.30 L816.09,348.30 L816.05,349.30 L816.02,350.30 L815.98,351.30 L815.95,352.30 L815.91,353.30 L815.88,354.30 L815.85,355.30 L815.82,356.30 L815.79,357.30 L815.76,358.30 L815.73,359.30 L815.70,360.30 L815.68,361.30 L815.65,362.30 L815.62,363.30 L815.60,364.30 L815.58,365.30 L815.55,366.30 L815.53,367.30 L815.51,368.30 L815.49,369.30 L815.46,370.30 L815.44,371.30 L815.42,372.30 L815.41,373.30 L815.39,374.30 L815.37,375.30 L815.35,376.30 L815.33,377.30 L815.32,378.30 L815.30,379.30 L815.29,380.30 L815.27,381.30 L815.26,382.30 L815.24,383.30 L815.23,384.30 L815.22,385.30 L815.20,386.30 L815.19,387.30 L815.18,388.30 L815.17,389.30 L815.16,390.30 L815.15,391.30 L815.14,392.30 L815.13,393.30 L815.12,394.30 L815.11,395.30 L815.10,396.30 L815.09,397.30 L815.08,398.30 L815.07,399.30 L815.06,400.30 L815.06,401.30 L815.05,402.30 L815.04,403.30 L815.03,404.30 L815.03,405.30 L815.02,406.30 L815.01,407.30 L815.01,408.30 L815.00,409.30 L814.99,410.30 L814.99,411.30 L814.98,412.30 L814.98,413.30 L814.97,414.30 L814.96,415.30 L814.96,416.30 L814.95,417.30 L814.95,418.30 L814.94,419.30 L814.93,420.30 L814.93,421.30 L814.92,422.30 L814.92,423.30 L814.91,424.30 L814.90,425.30 L814.90,426.30 L814.89,427.30 L814.89,428.30 L814.88,429.30 L814.87,430.30 L814.87,431.30 L814.86,432.30 L814.85,433.30 L814.85,434.30 L814.84,435.30 L814.83,436.30 L814.82,437.30 L814.81,438.30 L814.81,439.30 L814.80,440.30 L814.79,441.30 L814.78,442.30 L814.77,443.30 L814.76,444.30 L814.75,445.30 L814.74,446.30 L814.73,447.30 L814.72,448.30 L814.71,449.30 L814.69,450.30 L814.68,451.30 L814.67,452.30 L814.66,453.30 L814.64,454.30 L814.63,455.30 L814.61,456.30 L814.60,457.30" fill="none" stroke="#000" stroke-width="3.2" stroke-linejoin="round"/>
<path d="M1282.80,45.20 L1169.30,59.20 L1143.80,73.60 L1137.39,74.60 L1131.22,75.60 L1125.28,76.60 L1119.54,77.60 L1113.99,78.60 L1108.63,79.60 L1103.44,80.60 L1098.41,81.60 L1093.52,82.60 L1088.75,83.60 L1084.11,84.60 L1079.57,85.60 L1075.12,86.60 L1070.75,87.60 L1066.44,88.60 L1062.19,89.60 L1057.97,90.60 L1053.78,91.60 L1049.61,92.60 L1045.43,93.60 L1041.24,94.60 L1037.02,95.60 L1032.76,96.60 L1028.45,97.60 L1024.12,98.60 L1019.77,99.60 L1015.42,100.60 L1011.09,101.60 L1006.79,102.60 L1002.55,103.60 L998.36,104.60 L994.26,105.60 L990.26,106.60 L986.37,107.60 L982.62,108.60 L979.00,109.60 L975.56,110.60 L972.28,111.60 L969.16,112.60 L966.18,113.60 L963.33,114.60 L960.58,115.60 L957.91,116.60 L955.32,117.60 L952.79,118.60 L950.29,119.60 L947.84,120.60 L945.42,121.60 L943.04,122.60 L940.71,123.60 L938.41,124.60 L936.15,125.60 L933.93,126.60 L931.75,127.60 L929.60,128.60 L927.49,129.60 L925.42,130.60 L923.38,131.60 L921.38,132.60 L919.41,133.60 L917.48,134.60 L915.58,135.60 L913.72,136.60 L911.89,137.60 L910.09,138.60 L908.32,139.60 L906.59,140.60 L904.89,141.60 L903.22,142.60 L901.58,143.60 L899.97,144.60 L898.39,145.60 L896.84,146.60 L895.32,147.60 L893.83,148.60 L892.37,149.60 L890.94,150.60 L889.53,151.60 L888.15,152.60 L886.80,153.60 L885.47,154.60 L884.17,155.60 L882.89,156.60 L881.64,157.60 L880.42,158.60 L879.21,159.60 L878.04,160.60 L876.88,161.60 L875.75,162.60 L874.64,163.60 L873.56,164.60 L872.49,165.60 L871.45,166.60 L870.42,167.60 L869.42,168.60 L868.44,169.60 L867.48,170.60 L866.53,171.60 L865.61,172.60 L864.70,173.60 L863.81,174.60 L862.94,175.60 L862.09,176.60 L861.25,177.60 L860.43,178.60 L859.63,179.60 L858.84,180.60 L858.06,181.60 L857.30,182.60 L856.56,183.60 L855.83,184.60 L855.11,185.60 L854.40,186.60 L853.71,187.60 L853.03,188.60 L852.36,189.60 L851.70,190.60 L851.06,191.60 L850.42,192.60 L849.79,193.60 L849.18,194.60 L848.57,195.60 L847.97,196.60 L847.39,197.60 L846.81,198.60 L846.24,199.60 L845.68,200.60 L845.14,201.60 L844.60,202.60 L844.06,203.60 L843.54,204.60 L843.03,205.60 L842.53,206.60 L842.03,207.60 L841.54,208.60 L841.06,209.60 L840.59,210.60 L840.13,211.60 L839.68,212.60 L839.23,213.60 L838.79,214.60 L838.36,215.60 L837.94,216.60 L837.52,217.60 L837.11,218.60 L836.71,219.60 L836.32,220.60 L835.93,221.60 L835.55,222.60 L835.18,223.60 L834.81,224.60 L834.45,225.60 L834.10,226.60 L833.75,227.60 L833.41,228.60 L833.08,229.60 L832.75,230.60 L832.43,231.60 L832.12,232.60 L831.81,233.60 L831.50,234.60 L831.20,235.60 L830.91,236.60 L830.62,237.60 L830.34,238.60 L830.06,239.60 L829.79,240.60 L829.52,241.60 L829.26,242.60 L829.00,243.60 L828.75,244.60 L828.50,245.60 L828.25,246.60 L828.01,247.60 L827.77,248.60 L827.54,249.60 L827.31,250.60 L827.09,251.60 L826.87,252.60 L826.65,253.60 L826.44,254.60 L826.23,255.60 L826.02,256.60 L825.82,257.60 L825.62,258.60 L825.42,259.60 L825.22,260.60 L825.03,261.60 L824.84,262.60 L824.65,263.60 L824.47,264.60 L824.29,265.60 L824.11,266.60 L823.93,267.60 L823.76,268.60 L823.58,269.60 L823.42,270.60 L823.25,271.60 L823.08,272.60 L822.92,273.60 L822.76,274.60 L822.60,275.60 L822.45,276.60 L822.30,277.60 L822.15,278.60 L822.00,279.60 L821.85,280.60 L821.71,281.60 L821.57,282.60 L821.43,283.60 L821.29,284.60 L821.15,285.60 L821.02,286.60 L820.89,287.60 L820.76,288.60 L820.64,289.60 L820.51,290.60 L820.39,291.60 L820.27,292.60 L820.15,293.60 L820.03,294.60 L819.92,295.60 L819.81,296.60 L819.70,297.60 L819.59,298.60 L819.48,299.60 L819.38,300.60 L819.28,301.60 L819.17,302.60 L819.08,303.60 L818.98,304.60 L818.88,305.60 L818.79,306.60 L818.70,307.60 L818.61,308.60 L818.52,309.60 L818.43,310.60 L818.35,311.60 L818.27,312.60 L818.18,313.60 L818.10,314.60 L818.03,315.60 L817.95,316.60 L817.87,317.60 L817.80,318.60 L817.73,319.60 L817.66,320.60 L817.59,321.60 L817.52,322.60 L817.46,323.60 L817.39,324.60 L817.33,325.60 L817.27,326.60 L817.21,327.60 L817.15,328.60 L817.09,329.60 L817.04,330.60 L816.98,331.60 L816.93,332.60 L816.88,333.60 L816.83,334.60 L816.78,335.60 L816.73,336.60 L816.68,337.60 L816.64,338.60 L816.59,339.60 L816.55,340.60 L816.51,341.60 L816.47,342.60 L816.43,343.60 L816.39,344.60 L816.35,345.60 L816.31,346.60 L816.28,347.60 L816.24,348.60 L816.21,349.60 L816.18,350.60 L816.14,351.60 L816.11,352.60 L816.08,353.60 L816.05,354.60 L816.03,355.60 L816.00,356.60 L815.97,357.60 L815.95,358.60 L815.92,359.60 L815.90,360.60 L815.88,361.60 L815.85,362.60 L815.83,363.60 L815.81,364.60 L815.79,365.60 L815.77,366.60 L815.76,367.60 L815.74,368.60 L815.72,369.60 L815.70,370.60 L815.69,371.60 L815.67,372.60 L815.66,373.60 L815.64,374.60 L815.63,375.60 L815.62,376.60 L815.60,377.60 L815.59,378.60 L815.58,379.60 L815.57,380.60 L815.56,381.60 L815.55,382.60 L815.54,383.60 L815.53,384.60 L815.52,385.60 L815.51,386.60 L815.50,387.60 L815.49,388.60 L815.48,389.60 L815.47,390.60 L815.47,391.60 L815.46,392.60 L815.45,393.60 L815.45,394.60 L815.44,395.60 L815.43,396.60 L815.43,397.60 L815.42,398.60 L815.41,399.60 L815.41,400.60 L815.40,401.60 L815.39,402.60 L815.39,403.60 L815.38,404.60 L815.38,405.60 L815.37,406.60 L815.36,407.60 L815.36,408.60 L815.35,409.60 L815.34,410.60 L815.34,411.60 L815.33,412.60 L815.32,413.60 L815.32,414.60 L815.31,415.60 L815.30,416.60 L815.29,417.60 L815.29,418.60 L815.28,419.60 L815.27,420.60 L815.26,421.60 L815.25,422.60 L815.24,423.60 L815.23,424.60 L815.22,425.60 L815.21,426.60 L815.20,427.60 L815.19,428.60 L815.18,429.60 L815.17,430.60 L815.15,431.60 L815.14,432.60 L815.13,433.60 L815.11,434.60 L815.10,435.60 L815.08,436.60 L815.06,437.60 L815.05,438.60 L815.03,439.60 L815.01,440.60 L814.99,441.60 L814.97,442.60 L814.95,443.60 L814.93,444.60 L814.91,445.60 L814.89,446.60 L814.87,447.60 L814.84,448.60 L814.82,449.60 L814.79,450.60 L814.77,451.60 L814.74,452.60 L814.71,453.60 L814.68,454.60 L814.65,455.60 L814.62,456.60 L814.60,457.30" fill="none" stroke="#f00" stroke-width="3.2" stroke-linejoin="round"/>
<path d="M1216.60,45.20 L1083.00,59.60 L1115.00,73.40 L1117.50,88.00 L1112.84,89.00 L1107.90,90.00 L1102.74,91.00 L1097.39,92.00 L1091.92,93.00 L1086.36,94.00 L1080.76,95.00 L1075.16,96.00 L1069.63,97.00 L1064.19,98.00 L1058.89,99.00 L1053.80,100.00 L1048.93,101.00 L1044.27,102.00 L1039.82,103.00 L1035.53,104.00 L1031.39,105.00 L1027.38,106.00 L1023.47,107.00 L1019.64,108.00 L1015.87,109.00 L1012.14,110.00 L1008.44,111.00 L1004.77,112.00 L1001.14,113.00 L997.55,114.00 L994.00,115.00 L990.50,116.00 L987.05,117.00 L983.65,118.00 L980.30,119.00 L977.00,120.00 L973.77,121.00 L970.60,122.00 L967.49,123.00 L964.44,124.00 L961.47,125.00 L958.55,126.00 L955.70,127.00 L952.91,128.00 L950.17,129.00 L947.50,130.00 L944.89,131.00 L942.33,132.00 L939.82,133.00 L937.37,134.00 L934.98,135.00 L932.63,136.00 L930.34,137.00 L928.10,138.00 L925.90,139.00 L923.75,140.00 L921.65,141.00 L919.59,142.00 L917.58,143.00 L915.60,144.00 L913.67,145.00 L911.78,146.00 L909.93,147.00 L908.12,148.00 L906.34,149.00 L904.60,150.00 L902.89,151.00 L901.22,152.00 L899.58,153.00 L897.97,154.00 L896.40,155.00 L894.86,156.00 L893.35,157.00 L891.87,158.00 L890.41,159.00 L888.99,160.00 L887.60,161.00 L886.23,162.00 L884.89,163.00 L883.58,164.00 L882.30,165.00 L881.04,166.00 L879.80,167.00 L878.59,168.00 L877.40,169.00 L876.23,170.00 L875.09,171.00 L873.96,172.00 L872.86,173.00 L871.78,174.00 L870.72,175.00 L869.67,176.00 L868.65,177.00 L867.64,178.00 L866.65,179.00 L865.67,180.00 L864.72,181.00 L863.77,182.00 L862.84,183.00 L861.93,184.00 L861.03,185.00 L860.15,186.00 L859.28,187.00 L858.42,188.00 L857.58,189.00 L856.75,190.00 L855.94,191.00 L855.14,192.00 L854.36,193.00 L853.59,194.00 L852.83,195.00 L852.08,196.00 L851.35,197.00 L850.63,198.00 L849.93,199.00 L849.23,200.00 L848.55,201.00 L847.89,202.00 L847.23,203.00 L846.59,204.00 L845.96,205.00 L845.34,206.00 L844.73,207.00 L844.13,208.00 L843.55,209.00 L842.98,210.00 L842.41,211.00 L841.86,212.00 L841.32,213.00 L840.80,214.00 L840.28,215.00 L839.77,216.00 L839.27,217.00 L838.79,218.00 L838.31,219.00 L837.84,220.00 L837.39,221.00 L836.94,222.00 L836.50,223.00 L836.07,224.00 L835.66,225.00 L835.25,226.00 L834.85,227.00 L834.45,228.00 L834.07,229.00 L833.70,230.00 L833.33,231.00 L832.98,232.00 L832.63,233.00 L832.29,234.00 L831.95,235.00 L831.63,236.00 L831.31,237.00 L831.00,238.00 L830.70,239.00 L830.40,240.00 L830.11,241.00 L829.83,242.00 L829.56,243.00 L829.29,244.00 L829.03,245.00 L828.77,246.00 L828.52,247.00 L828.28,248.00 L828.05,249.00 L827.82,250.00 L827.59,251.00 L827.37,252.00 L827.16,253.00 L826.95,254.00 L826.75,255.00 L826.55,256.00 L826.36,257.00 L826.17,258.00 L825.98,259.00 L825.80,260.00 L825.63,261.00 L825.46,262.00 L825.29,263.00 L825.13,264.00 L824.97,265.00 L824.81,266.00 L824.66,267.00 L824.51,268.00 L824.37,269.00 L824.23,270.00 L824.09,271.00 L823.95,272.00 L823.82,273.00 L823.69,274.00 L823.56,275.00 L823.43,276.00 L823.31,277.00 L823.18,278.00 L823.06,279.00 L822.95,280.00 L822.83,281.00 L822.71,282.00 L822.60,283.00 L822.49,284.00 L822.37,285.00 L822.26,286.00 L822.15,287.00 L822.04,288.00 L821.94,289.00 L821.83,290.00 L821.72,291.00 L821.62,292.00 L821.51,293.00 L821.41,294.00 L821.30,295.00 L821.20,296.00 L821.10,297.00 L821.00,298.00 L820.90,299.00 L820.80,300.00 L820.70,301.00 L820.61,302.00 L820.51,303.00 L820.42,304.00 L820.32,305.00 L820.23,306.00 L820.14,307.00 L820.04,308.00 L819.95,309.00 L819.86,310.00 L819.77,311.00 L819.69,312.00 L819.60,313.00 L819.51,314.00 L819.43,315.00 L819.34,316.00 L819.26,317.00 L819.17,318.00 L819.09,319.00 L819.01,320.00 L818.93,321.00 L818.85,322.00 L818.77,323.00 L818.69,324.00 L818.61,325.00 L818.54,326.00 L818.46,327.00 L818.39,328.00 L818.31,329.00 L818.24,330.00 L818.16,331.00 L818.09,332.00 L818.02,333.00 L817.95,334.00 L817.88,335.00 L817.81,336.00 L817.74,337.00 L817.68,338.00 L817.61,339.00 L817.54,340.00 L817.48,341.00 L817.42,342.00 L817.35,343.00 L817.29,344.00 L817.23,345.00 L817.17,346.00 L817.11,347.00 L817.05,348.00 L816.99,349.00 L816.93,350.00 L816.87,351.00 L816.82,352.00 L816.76,353.00 L816.71,354.00 L816.65,355.00 L816.60,356.00 L816.55,357.00 L816.49,358.00 L816.44,359.00 L816.39,360.00 L816.34,361.00 L816.29,362.00 L816.24,363.00 L816.20,364.00 L816.15,365.00 L816.10,366.00 L816.06,367.00 L816.01,368.00 L815.97,369.00 L815.92,370.00 L815.88,371.00 L815.84,372.00 L815.80,373.00 L815.76,374.00 L815.72,375.00 L815.68,376.00 L815.64,377.00 L815.60,378.00 L815.57,379.00 L815.53,380.00 L815.49,381.00 L815.46,382.00 L815.42,383.00 L815.39,384.00 L815.36,385.00 L815.32,386.00 L815.29,387.00 L815.26,388.00 L815.23,389.00 L815.20,390.00 L815.17,391.00 L815.14,392.00 L815.12,393.00 L815.09,394.00 L815.06,395.00 L815.04,396.00 L815.01,397.00 L814.99,398.00 L814.96,399.00 L814.94,400.00 L814.92,401.00 L814.90,402.00 L814.87,403.00 L814.85,404.00 L814.83,405.00 L814.81,406.00 L814.80,407.00 L814.78,408.00 L814.76,409.00 L814.74,410.00 L814.73,411.00 L814.71,412.00 L814.70,413.00 L814.68,414.00 L814.67,415.00 L814.65,416.00 L814.64,417.00 L814.63,418.00 L814.62,419.00 L814.61,420.00 L814.60,421.00 L814.59,422.00 L814.58,423.00 L814.57,424.00 L814.56,425.00 L814.55,426.00 L814.55,427.00 L814.54,428.00 L814.53,429.00 L814.53,430.00 L814.52,431.00 L814.52,432.00 L814.52,433.00 L814.51,434.00 L814.51,435.00 L814.51,436.00 L814.51,437.00 L814.51,438.00 L814.51,439.00 L814.51,440.00 L814.51,441.00 L814.51,442.00 L814.51,443.00 L814.52,444.00 L814.52,445.00 L814.52,446.00 L814.53,447.00 L814.53,448.00 L814.54,449.00 L814.54,450.00 L814.55,451.00 L814.56,452.00 L814.56,453.00 L814.57,454.00 L814.58,455.00 L814.59,456.00 L814.60,457.00 L814.60,457.30" fill="none" stroke="#f00" stroke-width="3.2" stroke-linejoin="round" stroke-dasharray="12.8 12.7"/>
<path d="M1210.80,45.20 L1057.00,58.90 L1063.40,73.30 L1034.50,89.30 L1019.00,100.50 L1016.30,103.30 L1012.80,115.10 L1009.37,116.10 L1005.96,117.10 L1002.57,118.10 L999.22,119.10 L995.90,120.10 L992.61,121.10 L989.36,122.10 L986.16,123.10 L983.00,124.10 L979.89,125.10 L976.84,126.10 L973.84,127.10 L970.90,128.10 L968.02,129.10 L965.20,130.10 L962.46,131.10 L959.79,132.10 L957.20,133.10 L954.68,134.10 L952.25,135.10 L949.90,136.10 L947.63,137.10 L945.39,138.10 L943.16,139.10 L940.91,140.10 L938.60,141.10 L936.21,142.10 L933.77,143.10 L931.29,144.10 L928.80,145.10 L926.32,146.10 L923.88,147.10 L921.50,148.10 L919.20,149.10 L916.98,150.10 L914.83,151.10 L912.76,152.10 L910.75,153.10 L908.81,154.10 L906.94,155.10 L905.14,156.10 L903.39,157.10 L901.70,158.10 L900.07,159.10 L898.49,160.10 L896.97,161.10 L895.49,162.10 L894.07,163.10 L892.68,164.10 L891.34,165.10 L890.04,166.10 L888.77,167.10 L887.54,168.10 L886.35,169.10 L885.18,170.10 L884.05,171.10 L882.94,172.10 L881.85,173.10 L880.78,174.10 L879.73,175.10 L878.70,176.10 L877.69,177.10 L876.68,178.10 L875.69,179.10 L874.70,180.10 L873.73,181.10 L872.76,182.10 L871.80,183.10 L870.85,184.10 L869.92,185.10 L868.99,186.10 L868.07,187.10 L867.16,188.10 L866.26,189.10 L865.38,190.10 L864.50,191.10 L863.63,192.10 L862.77,193.10 L861.92,194.10 L861.09,195.10 L860.26,196.10 L859.45,197.10 L858.64,198.10 L857.85,199.10 L857.07,200.10 L856.29,201.10 L855.53,202.10 L854.78,203.10 L854.04,204.10 L853.32,205.10 L852.60,206.10 L851.90,207.10 L851.20,208.10 L850.52,209.10 L849.85,210.10 L849.19,211.10 L848.54,212.10 L847.90,213.10 L847.27,214.10 L846.66,215.10 L846.05,216.10 L845.45,217.10 L844.87,218.10 L844.29,219.10 L843.72,220.10 L843.17,221.10 L842.62,222.10 L842.08,223.10 L841.56,224.10 L841.04,225.10 L840.53,226.10 L840.03,227.10 L839.54,228.10 L839.06,229.10 L838.58,230.10 L838.12,231.10 L837.66,232.10 L837.22,233.10 L836.78,234.10 L836.35,235.10 L835.92,236.10 L835.51,237.10 L835.10,238.10 L834.70,239.10 L834.31,240.10 L833.93,241.10 L833.55,242.10 L833.18,243.10 L832.82,244.10 L832.47,245.10 L832.12,246.10 L831.78,247.10 L831.45,248.10 L831.12,249.10 L830.80,250.10 L830.49,251.10 L830.18,252.10 L829.88,253.10 L829.58,254.10 L829.29,255.10 L829.01,256.10 L828.73,257.10 L828.46,258.10 L828.19,259.10 L827.93,260.10 L827.67,261.10 L827.42,262.10 L827.18,263.10 L826.94,264.10 L826.70,265.10 L826.47,266.10 L826.24,267.10 L826.02,268.10 L825.80,269.10 L825.59,270.10 L825.38,271.10 L825.18,272.10 L824.97,273.10 L824.78,274.10 L824.58,275.10 L824.39,276.10 L824.21,277.10 L824.02,278.10 L823.84,279.10 L823.66,280.10 L823.49,281.10 L823.32,282.10 L823.15,283.10 L822.99,284.10 L822.82,285.10 L822.66,286.10 L822.50,287.10 L822.35,288.10 L822.19,289.10 L822.04,290.10 L821.89,291.10 L821.74,292.10 L821.60,293.10 L821.45,294.10 L821.31,295.10 L821.17,296.10 L821.03,297.10 L820.89,298.10 L820.76,299.10 L820.62,300.10 L820.49,301.10 L820.36,302.10 L820.23,303.10 L820.11,304.10 L819.98,305.10 L819.86,306.10 L819.74,307.10 L819.62,308.10 L819.50,309.10 L819.38,310.10 L819.27,311.10 L819.15,312.10 L819.04,313.10 L818.93,314.10 L818.82,315.10 L818.72,316.10 L818.61,317.10 L818.51,318.10 L818.41,319.10 L818.31,320.10 L818.21,321.10 L818.11,322.10 L818.01,323.10 L817.92,324.10 L817.83,325.10 L817.74,326.10 L817.65,327.10 L817.56,328.10 L817.47,329.10 L817.39,330.10 L817.30,331.10 L817.22,332.10 L817.14,333.10 L817.06,334.10 L816.98,335.10 L816.90,336.10 L816.83,337.10 L816.75,338.10 L816.68,339.10 L816.61,340.10 L816.54,341.10 L816.47,342.10 L816.40,343.10 L816.34,344.10 L816.27,345.10 L816.21,346.10 L816.15,347.10 L816.08,348.10 L816.02,349.10 L815.97,350.10 L815.91,351.10 L815.85,352.10 L815.80,353.10 L815.74,354.10 L815.69,355.10 L815.64,356.10 L815.59,357.10 L815.54,358.10 L815.49,359.10 L815.44,360.10 L815.40,361.10 L815.35,362.10 L815.31,363.10 L815.27,364.10 L815.22,365.10 L815.18,366.10 L815.14,367.10 L815.11,368.10 L815.07,369.10 L815.03,370.10 L815.00,371.10 L814.96,372.10 L814.93,373.10 L814.89,374.10 L814.86,375.10 L814.83,376.10 L814.80,377.10 L814.77,378.10 L814.74,379.10 L814.72,380.10 L814.69,381.10 L814.67,382.10 L814.64,383.10 L814.62,384.10 L814.59,385.10 L814.57,386.10 L814.55,387.10 L814.53,388.10 L814.51,389.10 L814.49,390.10 L814.47,391.10 L814.46,392.10 L814.44,393.10 L814.42,394.10 L814.41,395.10 L814.39,396.10 L814.38,397.10 L814.37,398.10 L814.35,399.10 L814.34,400.10 L814.33,401.10 L814.32,402.10 L814.31,403.10 L814.30,404.10 L814.29,405.10 L814.28,406.10 L814.28,407.10 L814.27,408.10 L814.26,409.10 L814.26,410.10 L814.25,411.10 L814.25,412.10 L814.24,413.10 L814.24,414.10 L814.24,415.10 L814.23,416.10 L814.23,417.10 L814.23,418.10 L814.23,419.10 L814.23,420.10 L814.23,421.10 L814.23,422.10 L814.23,423.10 L814.23,424.10 L814.23,425.10 L814.23,426.10 L814.23,427.10 L814.23,428.10 L814.24,429.10 L814.24,430.10 L814.24,431.10 L814.25,432.10 L814.25,433.10 L814.25,434.10 L814.26,435.10 L814.26,436.10 L814.27,437.10 L814.27,438.10 L814.28,439.10 L814.28,440.10 L814.29,441.10 L814.29,442.10 L814.30,443.10 L814.31,444.10 L814.31,445.10 L814.32,446.10 L814.33,447.10 L814.33,448.10 L814.34,449.10 L814.35,450.10 L814.35,451.10 L814.36,452.10 L814.37,453.10 L814.38,454.10 L814.38,455.10 L814.39,456.10 L814.40,457.10 L814.40,457.30" fill="none" stroke="#00f" stroke-width="3.2" stroke-linejoin="round"/>
<path d="M1210.80,45.60 L1057.00,59.30 L1051.00,73.20 L1032.00,80.70 L1008.40,89.60 L984.80,99.40 L968.00,109.20 L963.00,112.70 L944.00,129.30 L941.50,133.00 L940.50,143.50 L938.41,144.50 L936.34,145.50 L934.30,146.50 L932.27,147.50 L930.27,148.50 L928.29,149.50 L926.34,150.50 L924.40,151.50 L922.49,152.50 L920.60,153.50 L918.74,154.50 L916.90,155.50 L915.08,156.50 L913.29,157.50 L911.52,158.50 L909.77,159.50 L908.05,160.50 L906.36,161.50 L904.68,162.50 L903.04,163.50 L901.41,164.50 L899.81,165.50 L898.23,166.50 L896.68,167.50 L895.15,168.50 L893.65,169.50 L892.17,170.50 L890.71,171.50 L889.27,172.50 L887.86,173.50 L886.48,174.50 L885.11,175.50 L883.77,176.50 L882.46,177.50 L881.17,178.50 L879.90,179.50 L878.65,180.50 L877.43,181.50 L876.23,182.50 L875.05,183.50 L873.90,184.50 L872.77,185.50 L871.67,186.50 L870.58,187.50 L869.52,188.50 L868.48,189.50 L867.47,190.50 L866.48,191.50 L865.51,192.50 L864.56,193.50 L863.64,194.50 L862.73,195.50 L861.85,196.50 L860.98,197.50 L860.14,198.50 L859.32,199.50 L858.51,200.50 L857.73,201.50 L856.96,202.50 L856.21,203.50 L855.48,204.50 L854.77,205.50 L854.07,206.50 L853.39,207.50 L852.73,208.50 L852.08,209.50 L851.45,210.50 L850.83,211.50 L850.23,212.50 L849.64,213.50 L849.07,214.50 L848.51,215.50 L847.97,216.50 L847.43,217.50 L846.91,218.50 L846.40,219.50 L845.91,220.50 L845.42,221.50 L844.95,222.50 L844.49,223.50 L844.04,224.50 L843.59,225.50 L843.16,226.50 L842.74,227.50 L842.33,228.50 L841.92,229.50 L841.52,230.50 L841.13,231.50 L840.75,232.50 L840.38,233.50 L840.01,234.50 L839.65,235.50 L839.29,236.50 L838.94,237.50 L838.60,238.50 L838.26,239.50 L837.92,240.50 L837.59,241.50 L837.26,242.50 L836.94,243.50 L836.62,244.50 L836.30,245.50 L835.98,246.50 L835.67,247.50 L835.36,248.50 L835.06,249.50 L834.76,250.50 L834.46,251.50 L834.16,252.50 L833.87,253.50 L833.58,254.50 L833.29,255.50 L833.01,256.50 L832.73,257.50 L832.45,258.50 L832.17,259.50 L831.90,260.50 L831.63,261.50 L831.37,262.50 L831.10,263.50 L830.84,264.50 L830.58,265.50 L830.33,266.50 L830.08,267.50 L829.83,268.50 L829.58,269.50 L829.34,270.50 L829.10,271.50 L828.86,272.50 L828.62,273.50 L828.39,274.50 L828.16,275.50 L827.93,276.50 L827.71,277.50 L827.49,278.50 L827.27,279.50 L827.05,280.50 L826.84,281.50 L826.62,282.50 L826.42,283.50 L826.21,284.50 L826.01,285.50 L825.80,286.50 L825.61,287.50 L825.41,288.50 L825.21,289.50 L825.02,290.50 L824.83,291.50 L824.65,292.50 L824.46,293.50 L824.28,294.50 L824.10,295.50 L823.92,296.50 L823.75,297.50 L823.58,298.50 L823.41,299.50 L823.24,300.50 L823.07,301.50 L822.91,302.50 L822.75,303.50 L822.59,304.50 L822.43,305.50 L822.28,306.50 L822.13,307.50 L821.98,308.50 L821.83,309.50 L821.68,310.50 L821.54,311.50 L821.40,312.50 L821.26,313.50 L821.12,314.50 L820.98,315.50 L820.85,316.50 L820.72,317.50 L820.59,318.50 L820.46,319.50 L820.34,320.50 L820.21,321.50 L820.09,322.50 L819.97,323.50 L819.85,324.50 L819.74,325.50 L819.62,326.50 L819.51,327.50 L819.40,328.50 L819.29,329.50 L819.19,330.50 L819.08,331.50 L818.98,332.50 L818.88,333.50 L818.78,334.50 L818.68,335.50 L818.58,336.50 L818.49,337.50 L818.39,338.50 L818.30,339.50 L818.21,340.50 L818.13,341.50 L818.04,342.50 L817.95,343.50 L817.87,344.50 L817.79,345.50 L817.71,346.50 L817.63,347.50 L817.55,348.50 L817.48,349.50 L817.40,350.50 L817.33,351.50 L817.26,352.50 L817.19,353.50 L817.12,354.50 L817.05,355.50 L816.99,356.50 L816.92,357.50 L816.86,358.50 L816.80,359.50 L816.74,360.50 L816.68,361.50 L816.62,362.50 L816.57,363.50 L816.51,364.50 L816.46,365.50 L816.40,366.50 L816.35,367.50 L816.30,368.50 L816.25,369.50 L816.21,370.50 L816.16,371.50 L816.11,372.50 L816.07,373.50 L816.02,374.50 L815.98,375.50 L815.94,376.50 L815.90,377.50 L815.86,378.50 L815.82,379.50 L815.79,380.50 L815.75,381.50 L815.71,382.50 L815.68,383.50 L815.65,384.50 L815.61,385.50 L815.58,386.50 L815.55,387.50 L815.52,388.50 L815.49,389.50 L815.46,390.50 L815.43,391.50 L815.41,392.50 L815.38,393.50 L815.36,394.50 L815.33,395.50 L815.31,396.50 L815.29,397.50 L815.26,398.50 L815.24,399.50 L815.22,400.50 L815.20,401.50 L815.18,402.50 L815.16,403.50 L815.14,404.50 L815.13,405.50 L815.11,406.50 L815.09,407.50 L815.07,408.50 L815.06,409.50 L815.04,410.50 L815.03,411.50 L815.01,412.50 L815.00,413.50 L814.99,414.50 L814.97,415.50 L814.96,416.50 L814.95,417.50 L814.94,418.50 L814.93,419.50 L814.92,420.50 L814.90,421.50 L814.89,422.50 L814.88,423.50 L814.87,424.50 L814.86,425.50 L814.86,426.50 L814.85,427.50 L814.84,428.50 L814.83,429.50 L814.82,430.50 L814.81,431.50 L814.80,432.50 L814.80,433.50 L814.79,434.50 L814.78,435.50 L814.77,436.50 L814.76,437.50 L814.76,438.50 L814.75,439.50 L814.74,440.50 L814.73,441.50 L814.73,442.50 L814.72,443.50 L814.71,444.50 L814.70,445.50 L814.69,446.50 L814.69,447.50 L814.68,448.50 L814.67,449.50 L814.66,450.50 L814.65,451.50 L814.64,452.50 L814.64,453.50 L814.63,454.50 L814.62,455.50 L814.61,456.50 L814.60,457.30" fill="none" stroke="#00f" stroke-width="3.2" stroke-linejoin="round" stroke-dasharray="12.8 12.7"/>
</g>
<path d="M1132.60,256.30 L1232.00,256.30" fill="none" stroke="#000" stroke-width="3.2" stroke-linejoin="round"/>
<text x="1239.2" y="268.60" font-size="33" fill="#000"><tspan font-style="italic">h</tspan>=0m</text>
<path d="M1132.60,295.60 L1232.00,295.60" fill="none" stroke="#f00" stroke-width="3.2" stroke-linejoin="round"/>
<text x="1239.2" y="307.90" font-size="33" fill="#000"><tspan font-style="italic">h</tspan>=2m</text>
<path d="M1132.60,335.00 L1232.00,335.00" fill="none" stroke="#f00" stroke-width="3.2" stroke-linejoin="round" stroke-dasharray="12.8 12.7"/>
<text x="1239.2" y="347.30" font-size="33" fill="#000"><tspan font-style="italic">h</tspan>=4m</text>
<path d="M1132.60,374.30 L1232.00,374.30" fill="none" stroke="#00f" stroke-width="3.2" stroke-linejoin="round"/>
<text x="1239.2" y="386.60" font-size="33" fill="#000"><tspan font-style="italic">h</tspan>=6m</text>
<path d="M1132.60,413.60 L1232.00,413.60" fill="none" stroke="#00f" stroke-width="3.2" stroke-linejoin="round" stroke-dasharray="12.8 12.7"/>
<text x="1239.2" y="425.90" font-size="33" fill="#000"><tspan font-style="italic">h</tspan>=8m</text>
<text x="949.5" y="533.2" font-size="33" fill="#262626">Shear stress ratio</text>
<text transform="translate(1185.5,533.2) scale(1.12,1)" font-size="33" font-style="italic" fill="#262626">χ</text>
<text transform="translate(729,288) rotate(-90)" font-size="33" fill="#262626"><tspan font-style="italic">z</tspan>/<tspan font-style="italic">h</tspan><tspan font-size="26" dx="1" dy="15.8">total</tspan></text>
<rect x="477.0" y="615.7" width="532.60" height="426.30" fill="none" stroke="#262626" stroke-width="1.6"/>
<line x1="477.0" y1="615.70" x2="483.0" y2="615.70" stroke="#262626" stroke-width="1.3"/>
<line x1="1009.6" y1="615.70" x2="1003.6" y2="615.70" stroke="#262626" stroke-width="1.3"/>
<text transform="translate(466.70,627.30) scale(0.96,1.07)" text-anchor="end" font-size="30" fill="#262626">0</text>
<line x1="477.0" y1="686.75" x2="483.0" y2="686.75" stroke="#262626" stroke-width="1.3"/>
<line x1="1009.6" y1="686.75" x2="1003.6" y2="686.75" stroke="#262626" stroke-width="1.3"/>
<text transform="translate(466.70,698.35) scale(0.96,1.07)" text-anchor="end" font-size="30" fill="#262626">-0.1</text>
<line x1="477.0" y1="757.80" x2="483.0" y2="757.80" stroke="#262626" stroke-width="1.3"/>
<line x1="1009.6" y1="757.80" x2="1003.6" y2="757.80" stroke="#262626" stroke-width="1.3"/>
<text transform="translate(466.70,769.40) scale(0.96,1.07)" text-anchor="end" font-size="30" fill="#262626">-0.2</text>
<line x1="477.0" y1="828.85" x2="483.0" y2="828.85" stroke="#262626" stroke-width="1.3"/>
<line x1="1009.6" y1="828.85" x2="1003.6" y2="828.85" stroke="#262626" stroke-width="1.3"/>
<text transform="translate(466.70,840.45) scale(0.96,1.07)" text-anchor="end" font-size="30" fill="#262626">-0.3</text>
<line x1="477.0" y1="899.90" x2="483.0" y2="899.90" stroke="#262626" stroke-width="1.3"/>
<line x1="1009.6" y1="899.90" x2="1003.6" y2="899.90" stroke="#262626" stroke-width="1.3"/>
<text transform="translate(466.70,911.50) scale(0.96,1.07)" text-anchor="end" font-size="30" fill="#262626">-0.4</text>
<line x1="477.0" y1="970.95" x2="483.0" y2="970.95" stroke="#262626" stroke-width="1.3"/>
<line x1="1009.6" y1="970.95" x2="1003.6" y2="970.95" stroke="#262626" stroke-width="1.3"/>
<text transform="translate(466.70,982.55) scale(0.96,1.07)" text-anchor="end" font-size="30" fill="#262626">-0.5</text>
<line x1="477.0" y1="1042.00" x2="483.0" y2="1042.00" stroke="#262626" stroke-width="1.3"/>
<line x1="1009.6" y1="1042.00" x2="1003.6" y2="1042.00" stroke="#262626" stroke-width="1.3"/>
<text transform="translate(466.70,1053.60) scale(0.96,1.07)" text-anchor="end" font-size="30" fill="#262626">-0.6</text>
<line x1="477.00" y1="1042.0" x2="477.00" y2="1036.0" stroke="#262626" stroke-width="1.3"/>
<line x1="477.00" y1="615.7" x2="477.00" y2="621.7" stroke="#262626" stroke-width="1.3"/>
<text transform="translate(477.00,1079.30) scale(0.96,1.07)" text-anchor="middle" font-size="30" fill="#262626">0</text>
<line x1="565.77" y1="1042.0" x2="565.77" y2="1036.0" stroke="#262626" stroke-width="1.3"/>
<line x1="565.77" y1="615.7" x2="565.77" y2="621.7" stroke="#262626" stroke-width="1.3"/>
<text transform="translate(565.77,1079.30) scale(0.96,1.07)" text-anchor="middle" font-size="30" fill="#262626">0.2</text>
<line x1="654.53" y1="1042.0" x2="654.53" y2="1036.0" stroke="#262626" stroke-width="1.3"/>
<line x1="654.53" y1="615.7" x2="654.53" y2="621.7" stroke="#262626" stroke-width="1.3"/>
<text transform="translate(654.53,1079.30) scale(0.96,1.07)" text-anchor="middle" font-size="30" fill="#262626">0.4</text>
<line x1="743.30" y1="1042.0" x2="743.30" y2="1036.0" stroke="#262626" stroke-width="1.3"/>
<line x1="743.30" y1="615.7" x2="743.30" y2="621.7" stroke="#262626" stroke-width="1.3"/>
<text transform="translate(743.30,1079.30) scale(0.96,1.07)" text-anchor="middle" font-size="30" fill="#262626">0.6</text>
<line x1="832.07" y1="1042.0" x2="832.07" y2="1036.0" stroke="#262626" stroke-width="1.3"/>
<line x1="832.07" y1="615.7" x2="832.07" y2="621.7" stroke="#262626" stroke-width="1.3"/>
<text transform="translate(832.07,1079.30) scale(0.96,1.07)" text-anchor="middle" font-size="30" fill="#262626">0.8</text>
<line x1="920.83" y1="1042.0" x2="920.83" y2="1036.0" stroke="#262626" stroke-width="1.3"/>
<line x1="920.83" y1="615.7" x2="920.83" y2="621.7" stroke="#262626" stroke-width="1.3"/>
<text transform="translate(920.83,1079.30) scale(0.96,1.07)" text-anchor="middle" font-size="30" fill="#262626">1</text>
<g clip-path="url(#cc)">
<path d="M919.80,616.00 L919.80,1042.00" fill="none" stroke="#000" stroke-width="3.2" stroke-linejoin="round"/>
<path d="M478.60,616.00 L478.60,630.40 L624.80,644.20 L698.70,658.80 L742.64,672.54 L770.31,686.75 L790.97,700.96 L807.14,715.17 L819.93,729.38 L829.98,743.59 L838.02,757.80 L844.62,772.01 L850.17,786.22 L854.97,800.43 L859.24,814.64 L863.06,828.85 L866.49,843.06 L869.55,857.27 L872.30,871.48 L874.75,885.69 L876.94,899.90 L878.91,914.11 L880.67,928.32 L882.26,942.53 L883.70,956.74 L885.02,970.95 L886.24,985.16 L887.39,999.37 L888.48,1013.58 L889.55,1027.79 L890.62,1042.00 L890.70,1043.00" fill="none" stroke="#f00" stroke-width="3.2" stroke-linejoin="round"/>
<path d="M490.70,661.10 L557.03,672.54 L619.57,686.75 L663.19,700.96 L694.59,715.17 L718.45,729.38 L737.76,743.59 L753.98,757.80 L767.86,772.01 L779.85,786.22 L790.22,800.43 L799.19,814.64 L807.01,828.85 L813.86,843.06 L819.90,857.27 L825.24,871.48 L829.99,885.69 L834.22,899.90 L838.01,914.11 L841.41,928.32 L844.49,942.53 L847.29,956.74 L849.85,970.95 L852.22,985.16 L854.45,999.37 L856.57,1013.58 L858.62,1027.79 L860.66,1042.00 L860.80,1043.00" fill="none" stroke="#f00" stroke-width="3.2" stroke-linejoin="round" stroke-dasharray="12.8 12.7"/>
<path d="M478.60,616.00 L478.60,688.80 L538.92,700.96 L585.89,715.17 L621.09,729.38 L649.28,743.59 L672.70,757.80 L692.68,772.01 L710.03,786.22 L725.27,800.43 L738.73,814.64 L750.66,828.85 L761.28,843.06 L770.79,857.27 L779.34,871.48 L787.05,885.69 L794.01,899.90 L800.28,914.11 L805.92,928.32 L810.98,942.53 L815.49,956.74 L819.49,970.95 L823.00,985.16 L826.02,999.37 L828.60,1013.58 L830.72,1027.79 L832.40,1042.00 L832.50,1043.00" fill="none" stroke="#00f" stroke-width="3.2" stroke-linejoin="round"/>
<path d="M478.60,616.00 L478.60,717.50 L522.09,729.38 L561.65,743.59 L593.35,757.80 L619.80,772.01 L642.37,786.22 L661.91,800.43 L678.99,814.64 L693.99,828.85 L707.21,843.06 L718.97,857.27 L729.52,871.48 L739.06,885.69 L747.73,899.90 L755.63,914.11 L762.85,928.32 L769.46,942.53 L775.50,956.74 L781.03,970.95 L786.08,985.16 L790.68,999.37 L794.85,1013.58 L798.61,1027.79 L801.98,1042.00 L802.20,1043.00" fill="none" stroke="#00f" stroke-width="3.2" stroke-linejoin="round" stroke-dasharray="12.8 12.7" stroke-dashoffset="7.6"/>
</g>
<path d="M507.70,854.90 L607.00,854.90" fill="none" stroke="#000" stroke-width="3.2" stroke-linejoin="round"/>
<text x="615.0" y="866.08" font-size="30" fill="#000"><tspan font-style="italic">h</tspan>=0m</text>
<path d="M507.70,891.20 L607.00,891.20" fill="none" stroke="#f00" stroke-width="3.2" stroke-linejoin="round"/>
<text x="615.0" y="902.38" font-size="30" fill="#000"><tspan font-style="italic">h</tspan>=2m</text>
<path d="M507.70,927.00 L607.00,927.00" fill="none" stroke="#f00" stroke-width="3.2" stroke-linejoin="round" stroke-dasharray="12.8 12.7"/>
<text x="615.0" y="938.18" font-size="30" fill="#000"><tspan font-style="italic">h</tspan>=4m</text>
<path d="M507.70,962.30 L607.00,962.30" fill="none" stroke="#00f" stroke-width="3.2" stroke-linejoin="round"/>
<text x="615.0" y="973.48" font-size="30" fill="#000"><tspan font-style="italic">h</tspan>=6m</text>
<path d="M507.70,998.30 L607.00,998.30" fill="none" stroke="#00f" stroke-width="3.2" stroke-linejoin="round" stroke-dasharray="12.8 12.7"/>
<text x="615.0" y="1009.48" font-size="30" fill="#000"><tspan font-style="italic">h</tspan>=8m</text>
<text x="547" y="1117.3" font-size="33" fill="#262626">Effective spread parameter <tspan font-style="italic">S</tspan><tspan font-size="27" dy="16.3">e</tspan></text>
<path d="M942.4,1109.4 L955.4,1122.3 M955.4,1109.4 L942.4,1122.3" stroke="#262626" stroke-width="1.5" fill="none"/>
<text transform="translate(962.6,1123.6) scale(0.96,1.07)" font-size="30" fill="#262626">10</text>
<text transform="translate(989.8,1109.6) scale(0.96,1.07)" font-size="24" fill="#262626">-3</text>
<text transform="translate(392,872) rotate(-90)" font-size="33" fill="#262626"><tspan font-style="italic">z</tspan>/<tspan font-style="italic">h</tspan><tspan font-size="26" dx="1" dy="15.8">total</tspan></text>
</svg></body></html>
